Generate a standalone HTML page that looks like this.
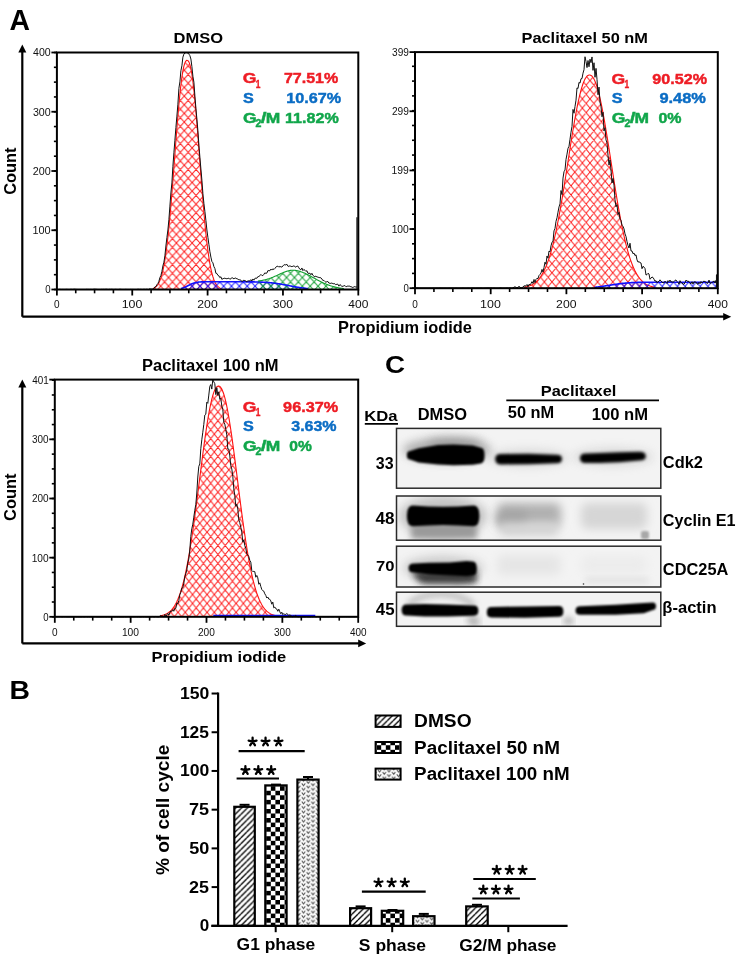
<!DOCTYPE html>
<html><head><meta charset="utf-8"><style>
html,body{margin:0;padding:0;background:#fff;}
svg{display:block;will-change:transform;}
text{font-family:"Liberation Sans",sans-serif;}
</style></head><body>
<svg width="737" height="967" viewBox="0 0 737 967">
<defs><pattern id="hrD" patternUnits="userSpaceOnUse" x="168.53" y="242.99" width="7.87" height="8.64"><path d="M0,0 L7.87,8.64 M7.87,0 L0,8.64 M-7.87,0 L7.87,17.28 M0,-8.64 L15.74,8.64 M0,8.64 L7.87,0 M-7.87,8.64 L7.87,-8.64 M0,17.28 L15.74,0" stroke="#ff1a1a" stroke-width="1.0" fill="none"/></pattern><pattern id="hbD" patternUnits="userSpaceOnUse" x="168.53" y="242.99" width="7.87" height="8.64"><path d="M0,0 L7.87,8.64 M7.87,0 L0,8.64 M-7.87,0 L7.87,17.28 M0,-8.64 L15.74,8.64 M0,8.64 L7.87,0 M-7.87,8.64 L7.87,-8.64 M0,17.28 L15.74,0" stroke="#1a1aff" stroke-width="1.0" fill="none"/></pattern><pattern id="hgD" patternUnits="userSpaceOnUse" x="168.53" y="242.99" width="7.87" height="8.64"><path d="M0,0 L7.87,8.64 M7.87,0 L0,8.64 M-7.87,0 L7.87,17.28 M0,-8.64 L15.74,8.64 M0,8.64 L7.87,0 M-7.87,8.64 L7.87,-8.64 M0,17.28 L15.74,0" stroke="#16a034" stroke-width="1.0" fill="none"/></pattern><pattern id="hrP" patternUnits="userSpaceOnUse" x="574.78" y="153.8" width="7.6" height="9.15"><path d="M0,0 L7.6,9.15 M7.6,0 L0,9.15 M-7.6,0 L7.6,18.3 M0,-9.15 L15.2,9.15 M0,9.15 L7.6,0 M-7.6,9.15 L7.6,-9.15 M0,18.3 L15.2,0" stroke="#ff1a1a" stroke-width="1.0" fill="none"/></pattern><pattern id="hbP" patternUnits="userSpaceOnUse" x="574.78" y="153.8" width="7.6" height="9.15"><path d="M0,0 L7.6,9.15 M7.6,0 L0,9.15 M-7.6,0 L7.6,18.3 M0,-9.15 L15.2,9.15 M0,9.15 L7.6,0 M-7.6,9.15 L7.6,-9.15 M0,18.3 L15.2,0" stroke="#1a1aff" stroke-width="1.0" fill="none"/></pattern><pattern id="hgP" patternUnits="userSpaceOnUse" x="574.78" y="153.8" width="7.6" height="9.15"><path d="M0,0 L7.6,9.15 M7.6,0 L0,9.15 M-7.6,0 L7.6,18.3 M0,-9.15 L15.2,9.15 M0,9.15 L7.6,0 M-7.6,9.15 L7.6,-9.15 M0,18.3 L15.2,0" stroke="#16a034" stroke-width="1.0" fill="none"/></pattern><pattern id="hrQ" patternUnits="userSpaceOnUse" x="207.06" y="505.43" width="7.26" height="8.91"><path d="M0,0 L7.26,8.91 M7.26,0 L0,8.91 M-7.26,0 L7.26,17.82 M0,-8.91 L14.52,8.91 M0,8.91 L7.26,0 M-7.26,8.91 L7.26,-8.91 M0,17.82 L14.52,0" stroke="#ff1a1a" stroke-width="1.0" fill="none"/></pattern><pattern id="hbQ" patternUnits="userSpaceOnUse" x="207.06" y="505.43" width="7.26" height="8.91"><path d="M0,0 L7.26,8.91 M7.26,0 L0,8.91 M-7.26,0 L7.26,17.82 M0,-8.91 L14.52,8.91 M0,8.91 L7.26,0 M-7.26,8.91 L7.26,-8.91 M0,17.82 L14.52,0" stroke="#1a1aff" stroke-width="1.0" fill="none"/></pattern><pattern id="hgQ" patternUnits="userSpaceOnUse" x="207.06" y="505.43" width="7.26" height="8.91"><path d="M0,0 L7.26,8.91 M7.26,0 L0,8.91 M-7.26,0 L7.26,17.82 M0,-8.91 L14.52,8.91 M0,8.91 L7.26,0 M-7.26,8.91 L7.26,-8.91 M0,17.82 L14.52,0" stroke="#16a034" stroke-width="1.0" fill="none"/></pattern><pattern id="pdiag" patternUnits="userSpaceOnUse" x="0.5" y="0" width="5.86" height="5.86"><path d="M-1,6.86 L6.86,-1 M-1,0.86 L0.86,-1 M5,6.86 L6.86,5" stroke="#000" stroke-width="1.35"/></pattern><pattern id="pcheck" patternUnits="userSpaceOnUse" x="266.2" y="786.2" width="9.2" height="9.1"><rect width="9.2" height="9.1" fill="#fff"/><rect x="4.6" width="4.6" height="4.55" fill="#000"/><rect y="4.55" width="4.6" height="4.55" fill="#000"/></pattern><pattern id="pdots" patternUnits="userSpaceOnUse" x="301.1" y="792.2" width="9.5" height="9.1"><rect width="9.5" height="9.1" fill="#fbfbfb"/><path d="M0.70,0.30 L2.40,2.50 L4.10,0.30 M5.45,2.60 L7.15,4.80 L8.85,2.60 M0.70,4.85 L2.40,7.05 L4.10,4.85 M5.45,7.15 L7.15,9.35 L8.85,7.15 M5.45,-1.95 L7.15,0.25 L8.85,-1.95 M-4.05,2.60 L-2.35,4.80 L-0.65,2.60 M-4.05,7.15 L-2.35,9.35 L-0.65,7.15 M10.20,2.60 L11.90,4.80 L13.60,2.60 M10.20,7.15 L11.90,9.35 L13.60,7.15 M10.20,-1.95 L11.90,0.25 L13.60,-1.95 M-4.05,-1.95 L-2.35,0.25 L-0.65,-1.95 " stroke="#505050" stroke-width="1.0" fill="none"/></pattern><filter id="b1" x="-20%" y="-50%" width="140%" height="200%"><feGaussianBlur stdDeviation="1.3"/></filter><filter id="b15" x="-20%" y="-60%" width="140%" height="220%"><feGaussianBlur stdDeviation="1.7"/></filter><filter id="b2" x="-20%" y="-80%" width="140%" height="260%"><feGaussianBlur stdDeviation="3"/></filter><filter id="b3" x="-30%" y="-100%" width="160%" height="300%"><feGaussianBlur stdDeviation="5"/></filter><clipPath id="cb0"><rect x="396.5" y="428.4" width="264.3" height="59.8"/></clipPath><clipPath id="cb1"><rect x="396.5" y="496.0" width="264.3" height="44.2"/></clipPath><clipPath id="cb2"><rect x="396.5" y="546.2" width="264.3" height="40.8"/></clipPath><clipPath id="cb3"><rect x="396.5" y="592.2" width="264.3" height="34.1"/></clipPath></defs>
<rect width="737" height="967" fill="#fff"/>
<path d="M152.90,289.50 L152.90,288.54 153.40,288.35 153.90,288.12 154.40,287.86 154.90,287.56 155.40,287.21 155.90,286.80 156.40,286.33 156.90,285.80 157.40,285.18 157.90,284.48 158.40,283.69 158.90,282.79 159.40,281.78 159.90,280.64 160.40,279.37 160.90,277.95 161.40,276.38 161.90,274.64 162.40,272.71 162.90,270.60 163.40,268.29 163.90,265.76 164.40,263.02 164.90,260.05 165.40,256.84 165.90,253.39 166.40,249.69 166.90,245.75 167.40,241.55 167.90,237.11 168.40,232.42 168.90,227.48 169.40,222.31 169.90,216.92 170.40,211.30 170.90,205.49 171.40,199.50 171.90,193.34 172.40,187.04 172.90,180.62 173.40,174.10 173.90,167.52 174.40,160.89 174.90,154.25 175.40,147.64 175.90,141.07 176.40,134.59 176.90,128.22 177.40,122.00 177.90,115.96 178.40,110.12 178.90,104.52 179.40,99.17 179.90,94.12 180.40,89.37 180.90,84.96 181.40,80.89 181.90,77.18 182.40,73.84 182.90,70.88 183.40,68.31 183.90,66.12 184.40,64.30 184.90,62.86 185.40,61.77 185.90,61.02 186.40,60.58 186.90,60.41 187.40,60.43 187.90,60.65 188.40,61.15 188.90,61.96 189.40,63.12 189.90,64.63 190.40,66.52 190.90,68.79 191.40,71.44 191.90,74.48 192.40,77.89 192.90,81.67 193.40,85.81 193.90,90.30 194.40,95.11 194.90,100.22 195.40,105.62 195.90,111.27 196.40,117.15 196.90,123.23 197.40,129.49 197.90,135.88 198.40,142.38 198.90,148.96 199.40,155.58 199.90,162.22 200.40,168.84 200.90,175.41 201.40,181.91 201.90,188.31 202.40,194.59 202.90,200.71 203.40,206.67 203.90,212.44 204.40,218.01 204.90,223.36 205.40,228.49 205.90,233.37 206.40,238.02 206.90,242.41 207.40,246.56 207.90,250.45 208.40,254.10 208.90,257.50 209.40,260.66 209.90,263.59 210.40,266.29 210.90,268.77 211.40,271.04 211.90,273.11 212.40,275.00 212.90,276.71 213.40,278.25 213.90,279.64 214.40,280.88 214.90,281.99 215.40,282.98 215.90,283.86 216.40,284.63 216.90,285.31 217.40,285.91 217.90,286.43 218.40,286.89 218.90,287.28 219.40,287.62 219.90,287.92 220.40,288.17 220.90,288.39 221.40,288.57 L221.40,289.50 Z" fill="url(#hrD)" stroke="none"/>
<polyline points="152.90,288.54 153.40,288.35 153.90,288.12 154.40,287.86 154.90,287.56 155.40,287.21 155.90,286.80 156.40,286.33 156.90,285.80 157.40,285.18 157.90,284.48 158.40,283.69 158.90,282.79 159.40,281.78 159.90,280.64 160.40,279.37 160.90,277.95 161.40,276.38 161.90,274.64 162.40,272.71 162.90,270.60 163.40,268.29 163.90,265.76 164.40,263.02 164.90,260.05 165.40,256.84 165.90,253.39 166.40,249.69 166.90,245.75 167.40,241.55 167.90,237.11 168.40,232.42 168.90,227.48 169.40,222.31 169.90,216.92 170.40,211.30 170.90,205.49 171.40,199.50 171.90,193.34 172.40,187.04 172.90,180.62 173.40,174.10 173.90,167.52 174.40,160.89 174.90,154.25 175.40,147.64 175.90,141.07 176.40,134.59 176.90,128.22 177.40,122.00 177.90,115.96 178.40,110.12 178.90,104.52 179.40,99.17 179.90,94.12 180.40,89.37 180.90,84.96 181.40,80.89 181.90,77.18 182.40,73.84 182.90,70.88 183.40,68.31 183.90,66.12 184.40,64.30 184.90,62.86 185.40,61.77 185.90,61.02 186.40,60.58 186.90,60.41 187.40,60.43 187.90,60.65 188.40,61.15 188.90,61.96 189.40,63.12 189.90,64.63 190.40,66.52 190.90,68.79 191.40,71.44 191.90,74.48 192.40,77.89 192.90,81.67 193.40,85.81 193.90,90.30 194.40,95.11 194.90,100.22 195.40,105.62 195.90,111.27 196.40,117.15 196.90,123.23 197.40,129.49 197.90,135.88 198.40,142.38 198.90,148.96 199.40,155.58 199.90,162.22 200.40,168.84 200.90,175.41 201.40,181.91 201.90,188.31 202.40,194.59 202.90,200.71 203.40,206.67 203.90,212.44 204.40,218.01 204.90,223.36 205.40,228.49 205.90,233.37 206.40,238.02 206.90,242.41 207.40,246.56 207.90,250.45 208.40,254.10 208.90,257.50 209.40,260.66 209.90,263.59 210.40,266.29 210.90,268.77 211.40,271.04 211.90,273.11 212.40,275.00 212.90,276.71 213.40,278.25 213.90,279.64 214.40,280.88 214.90,281.99 215.40,282.98 215.90,283.86 216.40,284.63 216.90,285.31 217.40,285.91 217.90,286.43 218.40,286.89 218.90,287.28 219.40,287.62 219.90,287.92 220.40,288.17 220.90,288.39 221.40,288.57" fill="none" stroke="#ff1010" stroke-width="1.1"/>
<path d="M180.90,289.50 L180.90,288.59 181.40,288.46 181.90,288.31 182.40,288.15 182.90,287.98 183.40,287.79 183.90,287.60 184.40,287.39 184.90,287.17 185.40,286.94 185.90,286.70 186.40,286.46 186.90,286.21 187.40,285.96 187.90,285.70 188.40,285.45 188.90,285.19 189.40,284.94 189.90,284.69 190.40,284.45 190.90,284.22 191.40,284.00 191.90,283.79 192.40,283.58 192.90,283.39 193.40,283.22 193.90,283.05 194.40,282.90 194.90,282.76 195.40,282.64 195.90,282.52 196.40,282.42 196.90,282.33 197.40,282.25 197.90,282.18 198.40,282.12 198.90,282.07 199.40,282.02 199.90,281.98 200.40,281.95 200.90,281.92 201.40,281.90 201.90,281.88 202.40,281.86 202.90,281.85 203.40,281.84 203.90,281.83 204.40,281.82 204.90,281.82 205.40,281.81 205.90,281.81 206.40,281.81 206.90,281.81 207.40,281.80 207.90,281.80 208.40,281.80 208.90,281.80 209.40,281.80 209.90,281.80 210.40,281.80 210.90,281.80 211.40,281.80 211.90,281.80 212.40,281.80 212.90,281.80 213.40,281.80 213.90,281.80 214.40,281.80 214.90,281.80 215.40,281.80 215.90,281.80 216.40,281.80 216.90,281.80 217.40,281.80 217.90,281.80 218.40,281.80 218.90,281.80 219.40,281.80 219.90,281.80 220.40,281.80 220.90,281.80 221.40,281.80 221.90,281.80 222.40,281.80 222.90,281.80 223.40,281.80 223.90,281.80 224.40,281.80 224.90,281.80 225.40,281.80 225.90,281.80 226.40,281.80 226.90,281.80 227.40,281.80 227.90,281.80 228.40,281.80 228.90,281.80 229.40,281.80 229.90,281.80 230.40,281.80 230.90,281.80 231.40,281.80 231.90,281.80 232.40,281.80 232.90,281.80 233.40,281.80 233.90,281.80 234.40,281.80 234.90,281.80 235.40,281.80 235.90,281.80 236.40,281.80 236.90,281.80 237.40,281.80 237.90,281.81 238.40,281.81 238.90,281.81 239.40,281.81 239.90,281.81 240.40,281.81 240.90,281.81 241.40,281.81 241.90,281.81 242.40,281.81 242.90,281.82 243.40,281.82 243.90,281.82 244.40,281.82 244.90,281.82 245.40,281.82 245.90,281.83 246.40,281.83 246.90,281.83 247.40,281.84 247.90,281.84 248.40,281.84 248.90,281.85 249.40,281.85 249.90,281.86 250.40,281.86 250.90,281.87 251.40,281.87 251.90,281.88 252.40,281.89 252.90,281.89 253.40,281.90 253.90,281.91 254.40,281.92 254.90,281.93 255.40,281.94 255.90,281.95 256.40,281.96 256.90,281.97 257.40,281.99 257.90,282.00 258.40,282.01 258.90,282.03 259.40,282.05 259.90,282.07 260.40,282.08 260.90,282.10 261.40,282.13 261.90,282.15 262.40,282.17 262.90,282.20 263.40,282.22 263.90,282.25 264.40,282.28 264.90,282.31 265.40,282.34 265.90,282.37 266.40,282.41 266.90,282.44 267.40,282.48 267.90,282.52 268.40,282.56 268.90,282.60 269.40,282.65 269.90,282.70 270.40,282.74 270.90,282.79 271.40,282.84 271.90,282.90 272.40,282.95 272.90,283.01 273.40,283.07 273.90,283.13 274.40,283.19 274.90,283.26 275.40,283.32 275.90,283.39 276.40,283.46 276.90,283.53 277.40,283.60 277.90,283.68 278.40,283.75 278.90,283.83 279.40,283.91 279.90,283.99 280.40,284.08 280.90,284.16 281.40,284.24 281.90,284.33 282.40,284.42 282.90,284.51 283.40,284.60 283.90,284.69 284.40,284.78 284.90,284.87 285.40,284.96 285.90,285.06 286.40,285.15 286.90,285.25 287.40,285.34 287.90,285.44 288.40,285.53 288.90,285.63 289.40,285.73 289.90,285.82 290.40,285.92 290.90,286.01 291.40,286.11 291.90,286.20 292.40,286.30 292.90,286.39 293.40,286.48 293.90,286.58 294.40,286.67 294.90,286.76 295.40,286.85 295.90,286.93 296.40,287.02 296.90,287.11 297.40,287.19 297.90,287.27 298.40,287.36 298.90,287.44 299.40,287.51 299.90,287.59 300.40,287.67 300.90,287.74 301.40,287.81 301.90,287.88 302.40,287.95 302.90,288.02 303.40,288.08 303.90,288.15 304.40,288.21 304.90,288.27 305.40,288.32 305.90,288.38 306.40,288.43 306.90,288.49 307.40,288.54 307.90,288.59 L307.90,289.50 Z" fill="url(#hbD)" stroke="none"/>
<path d="M257.90,289.50 L257.90,281.03 258.40,280.97 258.90,280.91 259.40,280.84 259.90,280.77 260.40,280.70 260.90,280.62 261.40,280.53 261.90,280.44 262.40,280.35 262.90,280.25 263.40,280.15 263.90,280.04 264.40,279.93 264.90,279.81 265.40,279.69 265.90,279.56 266.40,279.43 266.90,279.29 267.40,279.14 267.90,278.99 268.40,278.84 268.90,278.67 269.40,278.51 269.90,278.33 270.40,278.16 270.90,277.97 271.40,277.78 271.90,277.59 272.40,277.39 272.90,277.19 273.40,276.98 273.90,276.77 274.40,276.56 274.90,276.34 275.40,276.12 275.90,275.89 276.40,275.67 276.90,275.44 277.40,275.21 277.90,274.98 278.40,274.74 278.90,274.51 279.40,274.28 279.90,274.05 280.40,273.82 280.90,273.59 281.40,273.36 281.90,273.14 282.40,272.92 282.90,272.71 283.40,272.50 283.90,272.29 284.40,272.09 284.90,271.90 285.40,271.72 285.90,271.54 286.40,271.37 286.90,271.21 287.40,271.06 287.90,270.92 288.40,270.80 288.90,270.68 289.40,270.57 289.90,270.48 290.40,270.40 290.90,270.33 291.40,270.28 291.90,270.24 292.40,270.21 292.90,270.20 293.40,270.20 293.90,270.22 294.40,270.25 294.90,270.30 295.40,270.36 295.90,270.44 296.40,270.52 296.90,270.62 297.40,270.73 297.90,270.85 298.40,270.97 298.90,271.11 299.40,271.25 299.90,271.40 300.40,271.56 300.90,271.73 301.40,271.90 301.90,272.09 302.40,272.27 302.90,272.47 303.40,272.67 303.90,272.88 304.40,273.10 304.90,273.32 305.40,273.55 305.90,273.78 306.40,274.02 306.90,274.26 307.40,274.51 307.90,274.76 308.40,275.02 308.90,275.28 309.40,275.54 309.90,275.80 310.40,276.07 310.90,276.34 311.40,276.61 311.90,276.88 312.40,277.16 312.90,277.43 313.40,277.71 313.90,277.98 314.40,278.26 314.90,278.54 315.40,278.81 315.90,279.09 316.40,279.36 316.90,279.63 317.40,279.90 317.90,280.17 318.40,280.43 318.90,280.70 319.40,280.96 319.90,281.21 320.40,281.47 320.90,281.72 321.40,281.97 321.90,282.21 322.40,282.45 322.90,282.69 323.40,282.92 323.90,283.15 324.40,283.38 324.90,283.60 325.40,283.81 325.90,284.02 326.40,284.23 326.90,284.43 327.40,284.63 327.90,284.82 328.40,285.00 328.90,285.19 329.40,285.36 329.90,285.54 330.40,285.70 330.90,285.87 331.40,286.02 331.90,286.18 332.40,286.33 332.90,286.47 333.40,286.61 333.90,286.74 334.40,286.87 334.90,287.00 335.40,287.12 335.90,287.23 336.40,287.34 336.90,287.45 337.40,287.55 337.90,287.65 338.40,287.75 338.90,287.84 339.40,287.93 339.90,288.01 340.40,288.09 340.90,288.17 341.40,288.24 341.90,288.31 342.40,288.38 342.90,288.44 343.40,288.50 343.90,288.56 L343.90,289.50 Z" fill="url(#hgD)" stroke="none"/>
<polyline points="180.90,288.59 181.40,288.46 181.90,288.31 182.40,288.15 182.90,287.98 183.40,287.79 183.90,287.60 184.40,287.39 184.90,287.17 185.40,286.94 185.90,286.70 186.40,286.46 186.90,286.21 187.40,285.96 187.90,285.70 188.40,285.45 188.90,285.19 189.40,284.94 189.90,284.69 190.40,284.45 190.90,284.22 191.40,284.00 191.90,283.79 192.40,283.58 192.90,283.39 193.40,283.22 193.90,283.05 194.40,282.90 194.90,282.76 195.40,282.64 195.90,282.52 196.40,282.42 196.90,282.33 197.40,282.25 197.90,282.18 198.40,282.12 198.90,282.07 199.40,282.02 199.90,281.98 200.40,281.95 200.90,281.92 201.40,281.90 201.90,281.88 202.40,281.86 202.90,281.85 203.40,281.84 203.90,281.83 204.40,281.82 204.90,281.82 205.40,281.81 205.90,281.81 206.40,281.81 206.90,281.81 207.40,281.80 207.90,281.80 208.40,281.80 208.90,281.80 209.40,281.80 209.90,281.80 210.40,281.80 210.90,281.80 211.40,281.80 211.90,281.80 212.40,281.80 212.90,281.80 213.40,281.80 213.90,281.80 214.40,281.80 214.90,281.80 215.40,281.80 215.90,281.80 216.40,281.80 216.90,281.80 217.40,281.80 217.90,281.80 218.40,281.80 218.90,281.80 219.40,281.80 219.90,281.80 220.40,281.80 220.90,281.80 221.40,281.80 221.90,281.80 222.40,281.80 222.90,281.80 223.40,281.80 223.90,281.80 224.40,281.80 224.90,281.80 225.40,281.80 225.90,281.80 226.40,281.80 226.90,281.80 227.40,281.80 227.90,281.80 228.40,281.80 228.90,281.80 229.40,281.80 229.90,281.80 230.40,281.80 230.90,281.80 231.40,281.80 231.90,281.80 232.40,281.80 232.90,281.80 233.40,281.80 233.90,281.80 234.40,281.80 234.90,281.80 235.40,281.80 235.90,281.80 236.40,281.80 236.90,281.80 237.40,281.80 237.90,281.81 238.40,281.81 238.90,281.81 239.40,281.81 239.90,281.81 240.40,281.81 240.90,281.81 241.40,281.81 241.90,281.81 242.40,281.81 242.90,281.82 243.40,281.82 243.90,281.82 244.40,281.82 244.90,281.82 245.40,281.82 245.90,281.83 246.40,281.83 246.90,281.83 247.40,281.84 247.90,281.84 248.40,281.84 248.90,281.85 249.40,281.85 249.90,281.86 250.40,281.86 250.90,281.87 251.40,281.87 251.90,281.88 252.40,281.89 252.90,281.89 253.40,281.90 253.90,281.91 254.40,281.92 254.90,281.93 255.40,281.94 255.90,281.95 256.40,281.96 256.90,281.97 257.40,281.99 257.90,282.00 258.40,282.01 258.90,282.03 259.40,282.05 259.90,282.07 260.40,282.08 260.90,282.10 261.40,282.13 261.90,282.15 262.40,282.17 262.90,282.20 263.40,282.22 263.90,282.25 264.40,282.28 264.90,282.31 265.40,282.34 265.90,282.37 266.40,282.41 266.90,282.44 267.40,282.48 267.90,282.52 268.40,282.56 268.90,282.60 269.40,282.65 269.90,282.70 270.40,282.74 270.90,282.79 271.40,282.84 271.90,282.90 272.40,282.95 272.90,283.01 273.40,283.07 273.90,283.13 274.40,283.19 274.90,283.26 275.40,283.32 275.90,283.39 276.40,283.46 276.90,283.53 277.40,283.60 277.90,283.68 278.40,283.75 278.90,283.83 279.40,283.91 279.90,283.99 280.40,284.08 280.90,284.16 281.40,284.24 281.90,284.33 282.40,284.42 282.90,284.51 283.40,284.60 283.90,284.69 284.40,284.78 284.90,284.87 285.40,284.96 285.90,285.06 286.40,285.15 286.90,285.25 287.40,285.34 287.90,285.44 288.40,285.53 288.90,285.63 289.40,285.73 289.90,285.82 290.40,285.92 290.90,286.01 291.40,286.11 291.90,286.20 292.40,286.30 292.90,286.39 293.40,286.48 293.90,286.58 294.40,286.67 294.90,286.76 295.40,286.85 295.90,286.93 296.40,287.02 296.90,287.11 297.40,287.19 297.90,287.27 298.40,287.36 298.90,287.44 299.40,287.51 299.90,287.59 300.40,287.67 300.90,287.74 301.40,287.81 301.90,287.88 302.40,287.95 302.90,288.02 303.40,288.08 303.90,288.15 304.40,288.21 304.90,288.27 305.40,288.32 305.90,288.38 306.40,288.43 306.90,288.49 307.40,288.54 307.90,288.59" fill="none" stroke="#1010ff" stroke-width="1.6"/>
<polyline points="257.90,281.03 258.40,280.97 258.90,280.91 259.40,280.84 259.90,280.77 260.40,280.70 260.90,280.62 261.40,280.53 261.90,280.44 262.40,280.35 262.90,280.25 263.40,280.15 263.90,280.04 264.40,279.93 264.90,279.81 265.40,279.69 265.90,279.56 266.40,279.43 266.90,279.29 267.40,279.14 267.90,278.99 268.40,278.84 268.90,278.67 269.40,278.51 269.90,278.33 270.40,278.16 270.90,277.97 271.40,277.78 271.90,277.59 272.40,277.39 272.90,277.19 273.40,276.98 273.90,276.77 274.40,276.56 274.90,276.34 275.40,276.12 275.90,275.89 276.40,275.67 276.90,275.44 277.40,275.21 277.90,274.98 278.40,274.74 278.90,274.51 279.40,274.28 279.90,274.05 280.40,273.82 280.90,273.59 281.40,273.36 281.90,273.14 282.40,272.92 282.90,272.71 283.40,272.50 283.90,272.29 284.40,272.09 284.90,271.90 285.40,271.72 285.90,271.54 286.40,271.37 286.90,271.21 287.40,271.06 287.90,270.92 288.40,270.80 288.90,270.68 289.40,270.57 289.90,270.48 290.40,270.40 290.90,270.33 291.40,270.28 291.90,270.24 292.40,270.21 292.90,270.20 293.40,270.20 293.90,270.22 294.40,270.25 294.90,270.30 295.40,270.36 295.90,270.44 296.40,270.52 296.90,270.62 297.40,270.73 297.90,270.85 298.40,270.97 298.90,271.11 299.40,271.25 299.90,271.40 300.40,271.56 300.90,271.73 301.40,271.90 301.90,272.09 302.40,272.27 302.90,272.47 303.40,272.67 303.90,272.88 304.40,273.10 304.90,273.32 305.40,273.55 305.90,273.78 306.40,274.02 306.90,274.26 307.40,274.51 307.90,274.76 308.40,275.02 308.90,275.28 309.40,275.54 309.90,275.80 310.40,276.07 310.90,276.34 311.40,276.61 311.90,276.88 312.40,277.16 312.90,277.43 313.40,277.71 313.90,277.98 314.40,278.26 314.90,278.54 315.40,278.81 315.90,279.09 316.40,279.36 316.90,279.63 317.40,279.90 317.90,280.17 318.40,280.43 318.90,280.70 319.40,280.96 319.90,281.21 320.40,281.47 320.90,281.72 321.40,281.97 321.90,282.21 322.40,282.45 322.90,282.69 323.40,282.92 323.90,283.15 324.40,283.38 324.90,283.60 325.40,283.81 325.90,284.02 326.40,284.23 326.90,284.43 327.40,284.63 327.90,284.82 328.40,285.00 328.90,285.19 329.40,285.36 329.90,285.54 330.40,285.70 330.90,285.87 331.40,286.02 331.90,286.18 332.40,286.33 332.90,286.47 333.40,286.61 333.90,286.74 334.40,286.87 334.90,287.00 335.40,287.12 335.90,287.23 336.40,287.34 336.90,287.45 337.40,287.55 337.90,287.65 338.40,287.75 338.90,287.84 339.40,287.93 339.90,288.01 340.40,288.09 340.90,288.17 341.40,288.24 341.90,288.31 342.40,288.38 342.90,288.44 343.40,288.50 343.90,288.56" fill="none" stroke="#12a030" stroke-width="1.1"/>
<polyline points="57.90,289.50 58.90,289.47 59.90,289.30 60.90,289.50 61.90,289.50 62.90,289.46 63.90,289.50 64.90,289.49 65.90,289.44 66.90,289.36 67.90,289.50 68.90,289.50 69.90,289.50 70.90,289.35 71.90,289.41 72.90,289.50 73.90,289.27 74.90,289.28 75.90,289.43 76.90,289.44 77.90,289.50 78.90,289.50 79.90,289.49 80.90,289.50 81.90,289.50 82.90,289.50 83.90,289.50 84.90,289.50 85.90,289.50 86.90,289.34 87.90,289.49 88.90,289.43 89.90,289.50 90.90,289.42 91.90,289.50 92.90,289.50 93.90,289.26 94.90,289.26 95.90,289.34 96.90,289.40 97.90,289.50 98.90,289.50 99.90,289.50 100.90,289.50 101.90,289.37 102.90,289.50 103.90,289.33 104.90,289.50 105.90,289.28 106.90,289.33 107.90,289.50 108.90,289.50 109.90,289.30 110.90,289.50 111.90,289.27 112.90,289.50 113.90,289.50 114.90,289.44 115.90,289.37 116.90,289.50 117.90,289.50 118.90,289.50 119.90,289.28 120.90,289.38 121.90,289.50 122.90,289.50 123.90,289.50 124.90,289.50 125.90,289.36 126.90,289.50 127.90,289.47 128.90,289.50 129.90,289.50 130.90,289.39 131.90,289.50 132.90,289.43 133.90,289.50 134.90,289.50 135.90,289.50 136.90,289.50 137.90,289.27 138.90,289.35 139.90,289.50 140.90,289.31 141.90,289.50 142.90,289.50 143.90,289.32 144.90,289.42 145.90,289.50 146.90,289.22 147.90,289.50 148.90,289.50 149.90,288.62 150.90,289.21 151.90,289.00 152.90,289.05 153.90,288.52 154.90,286.87 155.90,286.62 156.90,284.65 157.90,283.55 158.90,281.34 159.90,277.57 160.90,275.53 161.90,271.40 162.90,265.90 163.90,262.24 164.90,255.85 165.90,245.99 166.90,237.66 167.90,229.99 168.90,219.65 169.90,206.10 170.90,192.94 171.90,182.92 172.90,166.30 173.90,152.81 174.90,140.27 175.90,127.59 176.90,116.10 177.90,104.19 178.90,88.34 179.90,81.88 180.90,70.76 181.90,65.81 182.90,57.13 183.90,54.16 184.90,53.07 185.90,52.50 186.90,52.50 187.90,53.06 188.90,54.08 189.90,55.67 190.90,59.02 191.90,66.68 192.90,76.25 193.90,82.21 194.90,96.13 195.90,108.31 196.90,119.08 197.90,130.73 198.90,145.18 199.90,157.34 200.90,168.99 201.90,180.22 202.90,193.50 203.90,203.40 204.90,211.48 205.90,220.44 206.90,229.98 207.90,237.40 208.90,244.44 209.90,251.71 210.90,257.12 211.90,261.55 212.90,262.79 213.90,266.60 214.90,268.59 215.90,273.28 216.90,273.49 217.90,275.32 218.90,275.84 219.90,277.73 220.90,276.74 221.90,279.45 222.90,278.66 223.90,278.43 224.90,278.17 225.90,278.62 226.90,278.71 227.90,278.47 228.90,278.12 229.90,279.37 230.90,278.50 231.90,277.90 232.90,277.92 233.90,278.98 234.90,278.11 235.90,278.04 236.90,278.90 237.90,279.03 238.90,279.92 239.90,279.81 240.90,280.14 241.90,281.74 242.90,280.78 243.90,280.22 244.90,280.64 245.90,281.03 246.90,281.75 247.90,280.80 248.90,280.90 249.90,280.91 250.90,279.62 251.90,280.97 252.90,278.96 253.90,280.20 254.90,278.35 255.90,278.14 256.90,278.24 257.90,276.57 258.90,276.54 259.90,275.71 260.90,274.40 261.90,275.51 262.90,275.59 263.90,274.31 264.90,272.79 265.90,273.48 266.90,273.03 267.90,270.58 268.90,270.70 269.90,270.76 270.90,269.07 271.90,270.09 272.90,268.72 273.90,269.54 274.90,268.49 275.90,267.07 276.90,266.40 277.90,266.15 278.90,267.19 279.90,266.36 280.90,266.84 281.90,267.12 282.90,265.93 283.90,264.84 284.90,264.69 285.90,264.99 286.90,264.28 287.90,266.14 288.90,266.47 289.90,265.75 290.90,266.34 291.90,266.65 292.90,266.27 293.90,265.89 294.90,266.50 295.90,267.26 296.90,266.13 297.90,266.08 298.90,267.88 299.90,269.29 300.90,269.82 301.90,267.98 302.90,270.67 303.90,269.36 304.90,270.22 305.90,271.41 306.90,270.66 307.90,273.21 308.90,273.43 309.90,273.15 310.90,274.80 311.90,273.29 312.90,275.34 313.90,276.13 314.90,276.90 315.90,275.99 316.90,276.98 317.90,277.06 318.90,277.52 319.90,277.66 320.90,277.81 321.90,278.95 322.90,280.56 323.90,280.37 324.90,281.50 325.90,282.30 326.90,281.66 327.90,281.51 328.90,283.09 329.90,283.24 330.90,283.42 331.90,282.98 332.90,283.68 333.90,283.78 334.90,283.76 335.90,284.80 336.90,284.21 337.90,284.21 338.90,286.15 339.90,284.59 340.90,285.23 341.90,286.63 342.90,286.13 343.90,285.94 344.90,285.51 345.90,286.72 346.90,286.46 347.90,285.96 348.90,286.23 349.90,286.04 350.90,287.08 351.90,286.79 352.90,287.74 353.90,286.79 354.90,286.67 355.90,287.07 356.90,286.97" fill="none" stroke="#111" stroke-width="1" stroke-linejoin="miter"/>
<rect x="56.90" y="52.50" width="301.40" height="237.00" fill="none" stroke="#000" stroke-width="2"/>
<line x1="53.90" y1="289.50" x2="56.90" y2="289.50" stroke="#000" stroke-width="1.6" />
<line x1="53.90" y1="274.69" x2="56.90" y2="274.69" stroke="#000" stroke-width="1.6" />
<line x1="53.90" y1="259.88" x2="56.90" y2="259.88" stroke="#000" stroke-width="1.6" />
<line x1="53.90" y1="245.06" x2="56.90" y2="245.06" stroke="#000" stroke-width="1.6" />
<line x1="53.90" y1="230.25" x2="56.90" y2="230.25" stroke="#000" stroke-width="1.6" />
<line x1="53.90" y1="215.44" x2="56.90" y2="215.44" stroke="#000" stroke-width="1.6" />
<line x1="53.90" y1="200.62" x2="56.90" y2="200.62" stroke="#000" stroke-width="1.6" />
<line x1="53.90" y1="185.81" x2="56.90" y2="185.81" stroke="#000" stroke-width="1.6" />
<line x1="53.90" y1="171.00" x2="56.90" y2="171.00" stroke="#000" stroke-width="1.6" />
<line x1="53.90" y1="156.19" x2="56.90" y2="156.19" stroke="#000" stroke-width="1.6" />
<line x1="53.90" y1="141.38" x2="56.90" y2="141.38" stroke="#000" stroke-width="1.6" />
<line x1="53.90" y1="126.56" x2="56.90" y2="126.56" stroke="#000" stroke-width="1.6" />
<line x1="53.90" y1="111.75" x2="56.90" y2="111.75" stroke="#000" stroke-width="1.6" />
<line x1="53.90" y1="96.94" x2="56.90" y2="96.94" stroke="#000" stroke-width="1.6" />
<line x1="53.90" y1="82.12" x2="56.90" y2="82.12" stroke="#000" stroke-width="1.6" />
<line x1="53.90" y1="67.31" x2="56.90" y2="67.31" stroke="#000" stroke-width="1.6" />
<line x1="53.90" y1="52.50" x2="56.90" y2="52.50" stroke="#000" stroke-width="1.6" />
<line x1="51.40" y1="289.50" x2="56.90" y2="289.50" stroke="#000" stroke-width="1.8" />
<text x="45.31" y="293.45" font-size="11.30" font-weight="normal" fill="#111" textLength="5.36" lengthAdjust="spacingAndGlyphs" >0</text>
<line x1="51.40" y1="230.25" x2="56.90" y2="230.25" stroke="#000" stroke-width="1.8" />
<text x="32.48" y="234.20" font-size="11.30" font-weight="normal" fill="#111" textLength="18.24" lengthAdjust="spacingAndGlyphs" >100</text>
<line x1="51.40" y1="171.00" x2="56.90" y2="171.00" stroke="#000" stroke-width="1.8" />
<text x="32.76" y="174.95" font-size="11.30" font-weight="normal" fill="#111" textLength="17.95" lengthAdjust="spacingAndGlyphs" >200</text>
<line x1="51.40" y1="111.75" x2="56.90" y2="111.75" stroke="#000" stroke-width="1.8" />
<text x="32.90" y="115.70" font-size="11.30" font-weight="normal" fill="#111" textLength="17.81" lengthAdjust="spacingAndGlyphs" >300</text>
<line x1="51.40" y1="52.50" x2="56.90" y2="52.50" stroke="#000" stroke-width="1.8" />
<text x="33.06" y="56.45" font-size="11.30" font-weight="normal" fill="#111" textLength="17.65" lengthAdjust="spacingAndGlyphs" >400</text>
<line x1="56.90" y1="289.50" x2="56.90" y2="295.50" stroke="#000" stroke-width="1.8" />
<text x="54.10" y="307.80" font-size="11.30" font-weight="normal" fill="#111" textLength="5.59" lengthAdjust="spacingAndGlyphs" >0</text>
<line x1="75.74" y1="289.50" x2="75.74" y2="293.30" stroke="#000" stroke-width="1.6" />
<line x1="94.58" y1="289.50" x2="94.58" y2="293.30" stroke="#000" stroke-width="1.6" />
<line x1="113.41" y1="289.50" x2="113.41" y2="293.30" stroke="#000" stroke-width="1.6" />
<line x1="132.25" y1="289.50" x2="132.25" y2="295.50" stroke="#000" stroke-width="1.8" />
<text x="121.67" y="307.80" font-size="11.30" font-weight="normal" fill="#111" textLength="20.71" lengthAdjust="spacingAndGlyphs" >100</text>
<line x1="151.09" y1="289.50" x2="151.09" y2="293.30" stroke="#000" stroke-width="1.6" />
<line x1="169.93" y1="289.50" x2="169.93" y2="293.30" stroke="#000" stroke-width="1.6" />
<line x1="188.76" y1="289.50" x2="188.76" y2="293.30" stroke="#000" stroke-width="1.6" />
<line x1="207.60" y1="289.50" x2="207.60" y2="295.50" stroke="#000" stroke-width="1.8" />
<text x="197.34" y="307.80" font-size="11.30" font-weight="normal" fill="#111" textLength="20.38" lengthAdjust="spacingAndGlyphs" >200</text>
<line x1="226.44" y1="289.50" x2="226.44" y2="293.30" stroke="#000" stroke-width="1.6" />
<line x1="245.28" y1="289.50" x2="245.28" y2="293.30" stroke="#000" stroke-width="1.6" />
<line x1="264.11" y1="289.50" x2="264.11" y2="293.30" stroke="#000" stroke-width="1.6" />
<line x1="282.95" y1="289.50" x2="282.95" y2="295.50" stroke="#000" stroke-width="1.8" />
<text x="272.85" y="307.80" font-size="11.30" font-weight="normal" fill="#111" textLength="20.22" lengthAdjust="spacingAndGlyphs" >300</text>
<line x1="301.79" y1="289.50" x2="301.79" y2="293.30" stroke="#000" stroke-width="1.6" />
<line x1="320.62" y1="289.50" x2="320.62" y2="293.30" stroke="#000" stroke-width="1.6" />
<line x1="339.46" y1="289.50" x2="339.46" y2="293.30" stroke="#000" stroke-width="1.6" />
<line x1="358.30" y1="289.50" x2="358.30" y2="295.50" stroke="#000" stroke-width="1.8" />
<text x="348.38" y="307.80" font-size="11.30" font-weight="normal" fill="#111" textLength="20.03" lengthAdjust="spacingAndGlyphs" >400</text>
<path d="M524.00,288.20 L524.00,287.23 524.50,287.15 525.00,287.05 525.50,286.95 526.00,286.84 526.50,286.72 527.00,286.60 527.50,286.46 528.00,286.31 528.50,286.16 529.00,285.99 529.50,285.80 530.00,285.61 530.50,285.40 531.00,285.18 531.50,284.94 532.00,284.68 532.50,284.41 533.00,284.12 533.50,283.81 534.00,283.48 534.50,283.13 535.00,282.76 535.50,282.36 536.00,281.94 536.50,281.49 537.00,281.02 537.50,280.52 538.00,279.99 538.50,279.43 539.00,278.84 539.50,278.21 540.00,277.55 540.50,276.86 541.00,276.12 541.50,275.35 542.00,274.54 542.50,273.69 543.00,272.80 543.50,271.87 544.00,270.89 544.50,269.86 545.00,268.79 545.50,267.66 546.00,266.49 546.50,265.27 547.00,264.00 547.50,262.67 548.00,261.29 548.50,259.85 549.00,258.36 549.50,256.81 550.00,255.20 550.50,253.53 551.00,251.81 551.50,250.02 552.00,248.18 552.50,246.27 553.00,244.31 553.50,242.28 554.00,240.20 554.50,238.05 555.00,235.84 555.50,233.57 556.00,231.25 556.50,228.86 557.00,226.42 557.50,223.92 558.00,221.36 558.50,218.75 559.00,216.08 559.50,213.37 560.00,210.60 560.50,207.78 561.00,204.92 561.50,202.02 562.00,199.07 562.50,196.08 563.00,193.06 563.50,190.00 564.00,186.91 564.50,183.79 565.00,180.65 565.50,177.48 566.00,174.30 566.50,171.11 567.00,167.90 567.50,164.68 568.00,161.46 568.50,158.24 569.00,155.03 569.50,151.83 570.00,148.63 570.50,145.46 571.00,142.31 571.50,139.18 572.00,136.08 572.50,133.02 573.00,129.99 573.50,127.01 574.00,124.08 574.50,121.20 575.00,118.37 575.50,115.60 576.00,112.90 576.50,110.27 577.00,107.71 577.50,105.22 578.00,102.81 578.50,100.49 579.00,98.25 579.50,96.10 580.00,94.05 580.50,92.09 581.00,90.22 581.50,88.46 582.00,86.81 582.50,85.25 583.00,83.81 583.50,82.47 584.00,81.24 584.50,80.12 585.00,79.11 585.50,78.22 586.00,77.44 586.50,76.77 587.00,76.21 587.50,75.76 588.00,75.41 588.50,75.18 589.00,75.04 589.50,75.00 590.00,75.04 590.50,75.18 591.00,75.41 591.50,75.76 592.00,76.21 592.50,76.77 593.00,77.44 593.50,78.22 594.00,79.11 594.50,80.12 595.00,81.24 595.50,82.47 596.00,83.81 596.50,85.25 597.00,86.81 597.50,88.46 598.00,90.22 598.50,92.09 599.00,94.05 599.50,96.10 600.00,98.25 600.50,100.49 601.00,102.81 601.50,105.22 602.00,107.71 602.50,110.27 603.00,112.90 603.50,115.60 604.00,118.37 604.50,121.20 605.00,124.08 605.50,127.01 606.00,129.99 606.50,133.02 607.00,136.08 607.50,139.18 608.00,142.31 608.50,145.46 609.00,148.63 609.50,151.83 610.00,155.03 610.50,158.24 611.00,161.46 611.50,164.68 612.00,167.90 612.50,171.11 613.00,174.30 613.50,177.48 614.00,180.65 614.50,183.79 615.00,186.91 615.50,190.00 616.00,193.06 616.50,196.08 617.00,199.07 617.50,202.02 618.00,204.92 618.50,207.78 619.00,210.60 619.50,213.37 620.00,216.08 620.50,218.75 621.00,221.36 621.50,223.92 622.00,226.42 622.50,228.86 623.00,231.25 623.50,233.57 624.00,235.84 624.50,238.05 625.00,240.20 625.50,242.28 626.00,244.31 626.50,246.27 627.00,248.18 627.50,250.02 628.00,251.81 628.50,253.53 629.00,255.20 629.50,256.81 630.00,258.36 630.50,259.85 631.00,261.29 631.50,262.67 632.00,264.00 632.50,265.27 633.00,266.49 633.50,267.66 634.00,268.79 634.50,269.86 635.00,270.89 635.50,271.87 636.00,272.80 636.50,273.69 637.00,274.54 637.50,275.35 638.00,276.12 638.50,276.86 639.00,277.55 639.50,278.21 640.00,278.84 640.50,279.43 641.00,279.99 641.50,280.52 642.00,281.02 642.50,281.49 643.00,281.94 643.50,282.36 644.00,282.76 644.50,283.13 645.00,283.48 645.50,283.81 646.00,284.12 646.50,284.41 647.00,284.68 647.50,284.94 648.00,285.18 648.50,285.40 649.00,285.61 649.50,285.80 650.00,285.99 650.50,286.16 651.00,286.31 651.50,286.46 652.00,286.60 652.50,286.72 653.00,286.84 653.50,286.95 654.00,287.05 654.50,287.15 655.00,287.23 L655.00,288.20 Z" fill="url(#hrP)" stroke="none"/>
<polyline points="524.00,287.23 524.50,287.15 525.00,287.05 525.50,286.95 526.00,286.84 526.50,286.72 527.00,286.60 527.50,286.46 528.00,286.31 528.50,286.16 529.00,285.99 529.50,285.80 530.00,285.61 530.50,285.40 531.00,285.18 531.50,284.94 532.00,284.68 532.50,284.41 533.00,284.12 533.50,283.81 534.00,283.48 534.50,283.13 535.00,282.76 535.50,282.36 536.00,281.94 536.50,281.49 537.00,281.02 537.50,280.52 538.00,279.99 538.50,279.43 539.00,278.84 539.50,278.21 540.00,277.55 540.50,276.86 541.00,276.12 541.50,275.35 542.00,274.54 542.50,273.69 543.00,272.80 543.50,271.87 544.00,270.89 544.50,269.86 545.00,268.79 545.50,267.66 546.00,266.49 546.50,265.27 547.00,264.00 547.50,262.67 548.00,261.29 548.50,259.85 549.00,258.36 549.50,256.81 550.00,255.20 550.50,253.53 551.00,251.81 551.50,250.02 552.00,248.18 552.50,246.27 553.00,244.31 553.50,242.28 554.00,240.20 554.50,238.05 555.00,235.84 555.50,233.57 556.00,231.25 556.50,228.86 557.00,226.42 557.50,223.92 558.00,221.36 558.50,218.75 559.00,216.08 559.50,213.37 560.00,210.60 560.50,207.78 561.00,204.92 561.50,202.02 562.00,199.07 562.50,196.08 563.00,193.06 563.50,190.00 564.00,186.91 564.50,183.79 565.00,180.65 565.50,177.48 566.00,174.30 566.50,171.11 567.00,167.90 567.50,164.68 568.00,161.46 568.50,158.24 569.00,155.03 569.50,151.83 570.00,148.63 570.50,145.46 571.00,142.31 571.50,139.18 572.00,136.08 572.50,133.02 573.00,129.99 573.50,127.01 574.00,124.08 574.50,121.20 575.00,118.37 575.50,115.60 576.00,112.90 576.50,110.27 577.00,107.71 577.50,105.22 578.00,102.81 578.50,100.49 579.00,98.25 579.50,96.10 580.00,94.05 580.50,92.09 581.00,90.22 581.50,88.46 582.00,86.81 582.50,85.25 583.00,83.81 583.50,82.47 584.00,81.24 584.50,80.12 585.00,79.11 585.50,78.22 586.00,77.44 586.50,76.77 587.00,76.21 587.50,75.76 588.00,75.41 588.50,75.18 589.00,75.04 589.50,75.00 590.00,75.04 590.50,75.18 591.00,75.41 591.50,75.76 592.00,76.21 592.50,76.77 593.00,77.44 593.50,78.22 594.00,79.11 594.50,80.12 595.00,81.24 595.50,82.47 596.00,83.81 596.50,85.25 597.00,86.81 597.50,88.46 598.00,90.22 598.50,92.09 599.00,94.05 599.50,96.10 600.00,98.25 600.50,100.49 601.00,102.81 601.50,105.22 602.00,107.71 602.50,110.27 603.00,112.90 603.50,115.60 604.00,118.37 604.50,121.20 605.00,124.08 605.50,127.01 606.00,129.99 606.50,133.02 607.00,136.08 607.50,139.18 608.00,142.31 608.50,145.46 609.00,148.63 609.50,151.83 610.00,155.03 610.50,158.24 611.00,161.46 611.50,164.68 612.00,167.90 612.50,171.11 613.00,174.30 613.50,177.48 614.00,180.65 614.50,183.79 615.00,186.91 615.50,190.00 616.00,193.06 616.50,196.08 617.00,199.07 617.50,202.02 618.00,204.92 618.50,207.78 619.00,210.60 619.50,213.37 620.00,216.08 620.50,218.75 621.00,221.36 621.50,223.92 622.00,226.42 622.50,228.86 623.00,231.25 623.50,233.57 624.00,235.84 624.50,238.05 625.00,240.20 625.50,242.28 626.00,244.31 626.50,246.27 627.00,248.18 627.50,250.02 628.00,251.81 628.50,253.53 629.00,255.20 629.50,256.81 630.00,258.36 630.50,259.85 631.00,261.29 631.50,262.67 632.00,264.00 632.50,265.27 633.00,266.49 633.50,267.66 634.00,268.79 634.50,269.86 635.00,270.89 635.50,271.87 636.00,272.80 636.50,273.69 637.00,274.54 637.50,275.35 638.00,276.12 638.50,276.86 639.00,277.55 639.50,278.21 640.00,278.84 640.50,279.43 641.00,279.99 641.50,280.52 642.00,281.02 642.50,281.49 643.00,281.94 643.50,282.36 644.00,282.76 644.50,283.13 645.00,283.48 645.50,283.81 646.00,284.12 646.50,284.41 647.00,284.68 647.50,284.94 648.00,285.18 648.50,285.40 649.00,285.61 649.50,285.80 650.00,285.99 650.50,286.16 651.00,286.31 651.50,286.46 652.00,286.60 652.50,286.72 653.00,286.84 653.50,286.95 654.00,287.05 654.50,287.15 655.00,287.23" fill="none" stroke="#ff1010" stroke-width="1.1"/>
<path d="M594.50,288.20 L594.50,287.30 595.00,287.25 595.50,287.20 596.00,287.15 596.50,287.10 597.00,287.04 597.50,286.99 598.00,286.93 598.50,286.87 599.00,286.81 599.50,286.75 600.00,286.69 600.50,286.62 601.00,286.55 601.50,286.49 602.00,286.42 602.50,286.35 603.00,286.28 603.50,286.21 604.00,286.13 604.50,286.06 605.00,285.98 605.50,285.91 606.00,285.83 606.50,285.75 607.00,285.68 607.50,285.60 608.00,285.52 608.50,285.44 609.00,285.36 609.50,285.28 610.00,285.20 610.50,285.12 611.00,285.04 611.50,284.96 612.00,284.88 612.50,284.80 613.00,284.72 613.50,284.65 614.00,284.57 614.50,284.49 615.00,284.42 615.50,284.34 616.00,284.27 616.50,284.19 617.00,284.12 617.50,284.05 618.00,283.98 618.50,283.91 619.00,283.85 619.50,283.78 620.00,283.71 620.50,283.65 621.00,283.59 621.50,283.53 622.00,283.47 622.50,283.41 623.00,283.36 623.50,283.30 624.00,283.25 624.50,283.20 625.00,283.15 625.50,283.10 626.00,283.06 626.50,283.01 627.00,282.97 627.50,282.93 628.00,282.89 628.50,282.85 629.00,282.82 629.50,282.78 630.00,282.75 630.50,282.72 631.00,282.68 631.50,282.66 632.00,282.63 632.50,282.60 633.00,282.58 633.50,282.55 634.00,282.53 634.50,282.51 635.00,282.49 635.50,282.47 636.00,282.45 636.50,282.43 637.00,282.42 637.50,282.40 638.00,282.39 638.50,282.37 639.00,282.36 639.50,282.35 640.00,282.34 640.50,282.33 641.00,282.32 641.50,282.31 642.00,282.30 642.50,282.29 643.00,282.28 643.50,282.28 644.00,282.27 644.50,282.26 645.00,282.26 645.50,282.25 646.00,282.25 646.50,282.24 647.00,282.24 647.50,282.24 648.00,282.23 648.50,282.23 649.00,282.23 649.50,282.23 650.00,282.22 650.50,282.22 651.00,282.22 651.50,282.22 652.00,282.22 652.50,282.21 653.00,282.21 653.50,282.21 654.00,282.21 654.50,282.21 655.00,282.21 655.50,282.21 656.00,282.21 656.50,282.21 657.00,282.21 657.50,282.20 658.00,282.20 658.50,282.20 659.00,282.20 659.50,282.20 660.00,282.20 660.50,282.20 661.00,282.20 661.50,282.20 662.00,282.20 662.50,282.20 663.00,282.20 663.50,282.20 664.00,282.20 664.50,282.20 665.00,282.20 665.50,282.20 666.00,282.20 666.50,282.20 667.00,282.20 667.50,282.20 668.00,282.20 668.50,282.20 669.00,282.20 669.50,282.20 670.00,282.20 670.50,282.20 671.00,282.20 671.50,282.20 672.00,282.20 672.50,282.20 673.00,282.20 673.50,282.20 674.00,282.20 674.50,282.20 675.00,282.20 675.50,282.20 676.00,282.20 676.50,282.20 677.00,282.20 677.50,282.20 678.00,282.20 678.50,282.20 679.00,282.20 679.50,282.20 680.00,282.20 680.50,282.20 681.00,282.20 681.50,282.20 682.00,282.20 682.50,282.20 683.00,282.20 683.50,282.20 684.00,282.20 684.50,282.20 685.00,282.20 685.50,282.20 686.00,282.20 686.50,282.20 687.00,282.20 687.50,282.20 688.00,282.20 688.50,282.20 689.00,282.20 689.50,282.20 690.00,282.20 690.50,282.20 691.00,282.20 691.50,282.20 692.00,282.20 692.50,282.20 693.00,282.20 693.50,282.20 694.00,282.20 694.50,282.20 695.00,282.20 695.50,282.20 696.00,282.20 696.50,282.20 697.00,282.20 697.50,282.20 698.00,282.20 698.50,282.20 699.00,282.20 699.50,282.20 700.00,282.20 700.50,282.20 701.00,282.20 701.50,282.20 702.00,282.20 702.50,282.20 703.00,282.20 703.50,282.20 704.00,282.20 704.50,282.20 705.00,282.20 705.50,282.20 706.00,282.20 706.50,282.20 707.00,282.20 707.50,282.20 708.00,282.20 708.50,282.20 709.00,282.20 709.50,282.20 710.00,282.20 710.50,282.20 711.00,282.20 711.50,282.20 712.00,282.20 712.50,282.20 713.00,282.20 713.50,282.20 714.00,282.20 714.50,282.20 715.00,282.20 715.50,282.20 716.00,282.20 716.50,282.20 717.00,282.20 717.50,282.20 L717.50,288.20 Z" fill="url(#hbP)" stroke="none"/>
<polyline points="594.50,287.30 595.00,287.25 595.50,287.20 596.00,287.15 596.50,287.10 597.00,287.04 597.50,286.99 598.00,286.93 598.50,286.87 599.00,286.81 599.50,286.75 600.00,286.69 600.50,286.62 601.00,286.55 601.50,286.49 602.00,286.42 602.50,286.35 603.00,286.28 603.50,286.21 604.00,286.13 604.50,286.06 605.00,285.98 605.50,285.91 606.00,285.83 606.50,285.75 607.00,285.68 607.50,285.60 608.00,285.52 608.50,285.44 609.00,285.36 609.50,285.28 610.00,285.20 610.50,285.12 611.00,285.04 611.50,284.96 612.00,284.88 612.50,284.80 613.00,284.72 613.50,284.65 614.00,284.57 614.50,284.49 615.00,284.42 615.50,284.34 616.00,284.27 616.50,284.19 617.00,284.12 617.50,284.05 618.00,283.98 618.50,283.91 619.00,283.85 619.50,283.78 620.00,283.71 620.50,283.65 621.00,283.59 621.50,283.53 622.00,283.47 622.50,283.41 623.00,283.36 623.50,283.30 624.00,283.25 624.50,283.20 625.00,283.15 625.50,283.10 626.00,283.06 626.50,283.01 627.00,282.97 627.50,282.93 628.00,282.89 628.50,282.85 629.00,282.82 629.50,282.78 630.00,282.75 630.50,282.72 631.00,282.68 631.50,282.66 632.00,282.63 632.50,282.60 633.00,282.58 633.50,282.55 634.00,282.53 634.50,282.51 635.00,282.49 635.50,282.47 636.00,282.45 636.50,282.43 637.00,282.42 637.50,282.40 638.00,282.39 638.50,282.37 639.00,282.36 639.50,282.35 640.00,282.34 640.50,282.33 641.00,282.32 641.50,282.31 642.00,282.30 642.50,282.29 643.00,282.28 643.50,282.28 644.00,282.27 644.50,282.26 645.00,282.26 645.50,282.25 646.00,282.25 646.50,282.24 647.00,282.24 647.50,282.24 648.00,282.23 648.50,282.23 649.00,282.23 649.50,282.23 650.00,282.22 650.50,282.22 651.00,282.22 651.50,282.22 652.00,282.22 652.50,282.21 653.00,282.21 653.50,282.21 654.00,282.21 654.50,282.21 655.00,282.21 655.50,282.21 656.00,282.21 656.50,282.21 657.00,282.21 657.50,282.20 658.00,282.20 658.50,282.20 659.00,282.20 659.50,282.20 660.00,282.20 660.50,282.20 661.00,282.20 661.50,282.20 662.00,282.20 662.50,282.20 663.00,282.20 663.50,282.20 664.00,282.20 664.50,282.20 665.00,282.20 665.50,282.20 666.00,282.20 666.50,282.20 667.00,282.20 667.50,282.20 668.00,282.20 668.50,282.20 669.00,282.20 669.50,282.20 670.00,282.20 670.50,282.20 671.00,282.20 671.50,282.20 672.00,282.20 672.50,282.20 673.00,282.20 673.50,282.20 674.00,282.20 674.50,282.20 675.00,282.20 675.50,282.20 676.00,282.20 676.50,282.20 677.00,282.20 677.50,282.20 678.00,282.20 678.50,282.20 679.00,282.20 679.50,282.20 680.00,282.20 680.50,282.20 681.00,282.20 681.50,282.20 682.00,282.20 682.50,282.20 683.00,282.20 683.50,282.20 684.00,282.20 684.50,282.20 685.00,282.20 685.50,282.20 686.00,282.20 686.50,282.20 687.00,282.20 687.50,282.20 688.00,282.20 688.50,282.20 689.00,282.20 689.50,282.20 690.00,282.20 690.50,282.20 691.00,282.20 691.50,282.20 692.00,282.20 692.50,282.20 693.00,282.20 693.50,282.20 694.00,282.20 694.50,282.20 695.00,282.20 695.50,282.20 696.00,282.20 696.50,282.20 697.00,282.20 697.50,282.20 698.00,282.20 698.50,282.20 699.00,282.20 699.50,282.20 700.00,282.20 700.50,282.20 701.00,282.20 701.50,282.20 702.00,282.20 702.50,282.20 703.00,282.20 703.50,282.20 704.00,282.20 704.50,282.20 705.00,282.20 705.50,282.20 706.00,282.20 706.50,282.20 707.00,282.20 707.50,282.20 708.00,282.20 708.50,282.20 709.00,282.20 709.50,282.20 710.00,282.20 710.50,282.20 711.00,282.20 711.50,282.20 712.00,282.20 712.50,282.20 713.00,282.20 713.50,282.20 714.00,282.20 714.50,282.20 715.00,282.20 715.50,282.20 716.00,282.20 716.50,282.20 717.00,282.20 717.50,282.20" fill="none" stroke="#1010ff" stroke-width="1.6"/>
<polyline points="416.00,287.97 417.00,287.96 418.00,287.99 419.00,288.20 420.00,288.15 421.00,288.20 422.00,288.18 423.00,288.20 424.00,288.20 425.00,288.20 426.00,288.20 427.00,288.20 428.00,288.20 429.00,288.20 430.00,288.09 431.00,288.20 432.00,288.19 433.00,288.07 434.00,288.20 435.00,288.20 436.00,288.05 437.00,288.15 438.00,288.11 439.00,288.13 440.00,287.95 441.00,288.20 442.00,288.06 443.00,288.20 444.00,288.16 445.00,288.11 446.00,288.20 447.00,288.20 448.00,288.20 449.00,288.08 450.00,288.15 451.00,288.20 452.00,288.12 453.00,288.20 454.00,288.20 455.00,288.20 456.00,288.03 457.00,288.20 458.00,288.20 459.00,288.20 460.00,288.20 461.00,288.20 462.00,288.16 463.00,288.03 464.00,288.20 465.00,288.20 466.00,288.20 467.00,288.20 468.00,288.05 469.00,288.17 470.00,288.20 471.00,288.20 472.00,288.05 473.00,288.09 474.00,288.02 475.00,288.20 476.00,288.18 477.00,287.97 478.00,288.15 479.00,287.96 480.00,288.20 481.00,287.94 482.00,288.20 483.00,288.20 484.00,288.20 485.00,288.03 486.00,288.10 487.00,287.94 488.00,288.03 489.00,287.95 490.00,288.18 491.00,287.93 492.00,288.06 493.00,288.20 494.00,287.93 495.00,288.20 496.00,288.20 497.00,288.20 498.00,288.20 499.00,288.20 500.00,287.94 501.00,287.93 502.00,288.20 503.00,288.20 504.00,288.17 505.00,288.20 506.00,288.15 507.00,287.98 508.00,288.20 509.00,288.20 510.00,287.89 511.00,288.18 512.00,288.20 513.00,287.84 514.00,287.13 515.00,286.86 516.00,287.29 517.00,287.91 518.00,287.07 519.00,286.57 520.00,286.95 521.00,287.95 522.00,287.63 523.00,287.10 524.00,285.72 525.00,286.13 526.00,285.84 527.00,284.51 528.00,286.71 529.00,284.32 530.00,284.98 531.00,283.49 532.00,281.65 533.00,283.48 534.00,279.45 535.00,282.67 536.00,279.30 537.00,278.27 538.00,278.67 539.00,275.50 540.00,274.49 541.00,272.95 542.00,269.40 543.00,272.08 544.00,267.44 545.00,262.15 546.00,264.29 547.00,255.97 548.00,258.20 549.00,251.06 550.00,251.95 551.00,245.87 552.00,242.20 553.00,241.33 554.00,230.88 555.00,228.42 556.00,221.30 557.00,217.75 558.00,212.18 559.00,206.93 560.00,203.89 561.00,190.54 562.00,194.59 563.00,178.09 564.00,171.69 565.00,170.03 566.00,159.45 567.00,154.14 568.00,148.35 569.00,146.29 570.00,139.21 571.00,132.15 572.00,126.40 573.00,109.40 574.00,113.22 575.00,106.47 576.00,100.17 577.00,87.88 578.00,88.52 579.00,82.35 580.00,83.17 581.00,78.76 582.00,78.59 583.00,73.17 584.00,69.68 585.00,56.76 586.00,61.51 587.00,67.59 588.00,60.51 589.00,66.76 590.00,59.15 591.00,62.68 592.00,56.94 593.00,70.38 594.00,62.75 595.00,77.29 596.00,68.38 597.00,79.29 598.00,94.76 599.00,87.07 600.00,102.07 601.00,106.79 602.00,116.78 603.00,112.19 604.00,130.98 605.00,127.70 606.00,139.97 607.00,142.66 608.00,155.29 609.00,165.11 610.00,159.95 611.00,170.14 612.00,182.93 613.00,178.38 614.00,185.13 615.00,199.78 616.00,206.85 617.00,204.64 618.00,214.69 619.00,212.22 620.00,219.16 621.00,220.29 622.00,225.24 623.00,226.39 624.00,228.90 625.00,233.87 626.00,236.58 627.00,241.51 628.00,245.55 629.00,248.03 630.00,243.22 631.00,250.96 632.00,250.96 633.00,253.75 634.00,253.07 635.00,255.59 636.00,254.80 637.00,259.86 638.00,262.11 639.00,261.62 640.00,262.60 641.00,262.94 642.00,268.71 643.00,266.30 644.00,267.12 645.00,268.49 646.00,275.01 647.00,274.58 648.00,273.31 649.00,273.98 650.00,279.26 651.00,278.06 652.00,277.00 653.00,277.47 654.00,279.16 655.00,281.26 656.00,280.68 657.00,282.70 658.00,281.74 659.00,281.46 660.00,279.81 661.00,281.08 662.00,282.04 663.00,282.92 664.00,282.70 665.00,281.15 666.00,282.24 667.00,283.52 668.00,280.62 669.00,281.76 670.00,280.02 671.00,281.98 672.00,281.61 673.00,282.50 674.00,281.69 675.00,280.30 676.00,280.02 677.00,281.47 678.00,282.51 679.00,284.16 680.00,280.67 681.00,282.69 682.00,282.73 683.00,284.19 684.00,284.29 685.00,282.69 686.00,280.07 687.00,281.12 688.00,281.26 689.00,281.44 690.00,283.22 691.00,283.69 692.00,281.74 693.00,284.16 694.00,281.80 695.00,282.13 696.00,282.01 697.00,283.90 698.00,284.14 699.00,282.32 700.00,283.79 701.00,281.56 702.00,283.06 703.00,281.66 704.00,281.08 705.00,281.72 706.00,282.06 707.00,283.56 708.00,282.89 709.00,280.05 710.00,283.24 711.00,283.17 712.00,282.23 713.00,281.99 714.00,280.89 715.00,283.12 716.00,280.12" fill="none" stroke="#111" stroke-width="1" stroke-linejoin="miter"/>
<rect x="415.00" y="52.10" width="302.80" height="236.10" fill="none" stroke="#000" stroke-width="2"/>
<line x1="412.00" y1="288.20" x2="415.00" y2="288.20" stroke="#000" stroke-width="1.6" />
<line x1="412.00" y1="273.41" x2="415.00" y2="273.41" stroke="#000" stroke-width="1.6" />
<line x1="412.00" y1="258.61" x2="415.00" y2="258.61" stroke="#000" stroke-width="1.6" />
<line x1="412.00" y1="243.82" x2="415.00" y2="243.82" stroke="#000" stroke-width="1.6" />
<line x1="412.00" y1="229.03" x2="415.00" y2="229.03" stroke="#000" stroke-width="1.6" />
<line x1="412.00" y1="214.23" x2="415.00" y2="214.23" stroke="#000" stroke-width="1.6" />
<line x1="412.00" y1="199.44" x2="415.00" y2="199.44" stroke="#000" stroke-width="1.6" />
<line x1="412.00" y1="184.65" x2="415.00" y2="184.65" stroke="#000" stroke-width="1.6" />
<line x1="412.00" y1="169.85" x2="415.00" y2="169.85" stroke="#000" stroke-width="1.6" />
<line x1="412.00" y1="155.06" x2="415.00" y2="155.06" stroke="#000" stroke-width="1.6" />
<line x1="412.00" y1="140.27" x2="415.00" y2="140.27" stroke="#000" stroke-width="1.6" />
<line x1="412.00" y1="125.47" x2="415.00" y2="125.47" stroke="#000" stroke-width="1.6" />
<line x1="412.00" y1="110.68" x2="415.00" y2="110.68" stroke="#000" stroke-width="1.6" />
<line x1="412.00" y1="95.89" x2="415.00" y2="95.89" stroke="#000" stroke-width="1.6" />
<line x1="412.00" y1="81.09" x2="415.00" y2="81.09" stroke="#000" stroke-width="1.6" />
<line x1="412.00" y1="66.30" x2="415.00" y2="66.30" stroke="#000" stroke-width="1.6" />
<line x1="409.50" y1="288.20" x2="415.00" y2="288.20" stroke="#000" stroke-width="1.8" />
<text x="403.41" y="292.15" font-size="11.30" font-weight="normal" fill="#111" textLength="5.36" lengthAdjust="spacingAndGlyphs" >0</text>
<line x1="409.50" y1="229.03" x2="415.00" y2="229.03" stroke="#000" stroke-width="1.8" />
<text x="391.63" y="232.98" font-size="11.30" font-weight="normal" fill="#111" textLength="17.17" lengthAdjust="spacingAndGlyphs" >100</text>
<line x1="409.50" y1="170.45" x2="415.00" y2="170.45" stroke="#000" stroke-width="1.8" />
<text x="391.62" y="174.40" font-size="11.30" font-weight="normal" fill="#111" textLength="17.25" lengthAdjust="spacingAndGlyphs" >199</text>
<line x1="409.50" y1="111.27" x2="415.00" y2="111.27" stroke="#000" stroke-width="1.8" />
<text x="391.89" y="115.22" font-size="11.30" font-weight="normal" fill="#111" textLength="16.98" lengthAdjust="spacingAndGlyphs" >299</text>
<line x1="409.50" y1="52.10" x2="415.00" y2="52.10" stroke="#000" stroke-width="1.8" />
<text x="392.02" y="56.05" font-size="11.30" font-weight="normal" fill="#111" textLength="16.84" lengthAdjust="spacingAndGlyphs" >399</text>
<line x1="415.00" y1="288.20" x2="415.00" y2="294.20" stroke="#000" stroke-width="1.8" />
<text x="412.20" y="307.90" font-size="11.30" font-weight="normal" fill="#111" textLength="5.59" lengthAdjust="spacingAndGlyphs" >0</text>
<line x1="433.93" y1="288.20" x2="433.93" y2="292.00" stroke="#000" stroke-width="1.6" />
<line x1="452.85" y1="288.20" x2="452.85" y2="292.00" stroke="#000" stroke-width="1.6" />
<line x1="471.77" y1="288.20" x2="471.77" y2="292.00" stroke="#000" stroke-width="1.6" />
<line x1="490.70" y1="288.20" x2="490.70" y2="294.20" stroke="#000" stroke-width="1.8" />
<text x="480.12" y="307.90" font-size="11.30" font-weight="normal" fill="#111" textLength="20.71" lengthAdjust="spacingAndGlyphs" >100</text>
<line x1="509.62" y1="288.20" x2="509.62" y2="292.00" stroke="#000" stroke-width="1.6" />
<line x1="528.55" y1="288.20" x2="528.55" y2="292.00" stroke="#000" stroke-width="1.6" />
<line x1="547.48" y1="288.20" x2="547.48" y2="292.00" stroke="#000" stroke-width="1.6" />
<line x1="566.40" y1="288.20" x2="566.40" y2="294.20" stroke="#000" stroke-width="1.8" />
<text x="556.14" y="307.90" font-size="11.30" font-weight="normal" fill="#111" textLength="20.38" lengthAdjust="spacingAndGlyphs" >200</text>
<line x1="585.33" y1="288.20" x2="585.33" y2="292.00" stroke="#000" stroke-width="1.6" />
<line x1="604.25" y1="288.20" x2="604.25" y2="292.00" stroke="#000" stroke-width="1.6" />
<line x1="623.17" y1="288.20" x2="623.17" y2="292.00" stroke="#000" stroke-width="1.6" />
<line x1="642.10" y1="288.20" x2="642.10" y2="294.20" stroke="#000" stroke-width="1.8" />
<text x="632.00" y="307.90" font-size="11.30" font-weight="normal" fill="#111" textLength="20.22" lengthAdjust="spacingAndGlyphs" >300</text>
<line x1="661.02" y1="288.20" x2="661.02" y2="292.00" stroke="#000" stroke-width="1.6" />
<line x1="679.95" y1="288.20" x2="679.95" y2="292.00" stroke="#000" stroke-width="1.6" />
<line x1="698.88" y1="288.20" x2="698.88" y2="292.00" stroke="#000" stroke-width="1.6" />
<line x1="717.80" y1="288.20" x2="717.80" y2="294.20" stroke="#000" stroke-width="1.8" />
<text x="707.88" y="307.90" font-size="11.30" font-weight="normal" fill="#111" textLength="20.03" lengthAdjust="spacingAndGlyphs" >400</text>
<path d="M160.30,616.80 L160.30,615.84 160.80,615.75 161.30,615.64 161.80,615.52 162.30,615.39 162.80,615.25 163.30,615.10 163.80,614.93 164.30,614.75 164.80,614.56 165.30,614.35 165.80,614.12 166.30,613.87 166.80,613.60 167.30,613.31 167.80,613.00 168.30,612.67 168.80,612.31 169.30,611.92 169.80,611.50 170.30,611.06 170.80,610.58 171.30,610.07 171.80,609.52 172.30,608.93 172.80,608.31 173.30,607.65 173.80,606.94 174.30,606.18 174.80,605.38 175.30,604.53 175.80,603.63 176.30,602.68 176.80,601.67 177.30,600.60 177.80,599.48 178.30,598.29 178.80,597.04 179.30,595.72 179.80,594.33 180.30,592.88 180.80,591.35 181.30,589.75 181.80,588.08 182.30,586.33 182.80,584.50 183.30,582.59 183.80,580.60 184.30,578.54 184.80,576.38 185.30,574.15 185.80,571.83 186.30,569.43 186.80,566.94 187.30,564.37 187.80,561.71 188.30,558.97 188.80,556.15 189.30,553.24 189.80,550.25 190.30,547.19 190.80,544.04 191.30,540.82 191.80,537.53 192.30,534.16 192.80,530.73 193.30,527.23 193.80,523.67 194.30,520.05 194.80,516.37 195.30,512.65 195.80,508.88 196.30,505.07 196.80,501.22 197.30,497.34 197.80,493.43 198.30,489.50 198.80,485.56 199.30,481.61 199.80,477.66 200.30,473.72 200.80,469.78 201.30,465.86 201.80,461.96 202.30,458.10 202.80,454.27 203.30,450.49 203.80,446.75 204.30,443.08 204.80,439.47 205.30,435.93 205.80,432.47 206.30,429.09 206.80,425.81 207.30,422.62 207.80,419.53 208.30,416.56 208.80,413.70 209.30,410.96 209.80,408.34 210.30,405.86 210.80,403.51 211.30,401.30 211.80,399.23 212.30,397.30 212.80,395.53 213.30,393.90 213.80,392.43 214.30,391.11 214.80,389.95 215.30,388.95 215.80,388.10 216.30,387.40 216.80,386.86 217.30,386.46 217.80,386.22 218.30,386.11 218.80,386.12 219.30,386.26 219.80,386.53 220.30,386.95 220.80,387.53 221.30,388.25 221.80,389.13 222.30,390.17 222.80,391.36 223.30,392.71 223.80,394.21 224.30,395.87 224.80,397.68 225.30,399.63 225.80,401.73 226.30,403.97 226.80,406.34 227.30,408.86 227.80,411.50 228.30,414.26 228.80,417.15 229.30,420.14 229.80,423.25 230.30,426.46 230.80,429.76 231.30,433.15 231.80,436.63 232.30,440.18 232.80,443.81 233.30,447.49 233.80,451.24 234.30,455.03 234.80,458.87 235.30,462.74 235.80,466.64 236.30,470.57 236.80,474.50 237.30,478.45 237.80,482.41 238.30,486.35 238.80,490.29 239.30,494.21 239.80,498.12 240.30,501.99 240.80,505.83 241.30,509.64 241.80,513.40 242.30,517.11 242.80,520.78 243.30,524.39 243.80,527.93 244.30,531.42 244.80,534.84 245.30,538.19 245.80,541.47 246.30,544.68 246.80,547.81 247.30,550.86 247.80,553.83 248.30,556.72 248.80,559.52 249.30,562.25 249.80,564.89 250.30,567.44 250.80,569.91 251.30,572.30 251.80,574.60 252.30,576.82 252.80,578.96 253.30,581.01 253.80,582.98 254.30,584.87 254.80,586.68 255.30,588.42 255.80,590.08 256.30,591.66 256.80,593.18 257.30,594.62 257.80,595.99 258.30,597.29 258.80,598.53 259.30,599.71 259.80,600.82 260.30,601.88 260.80,602.87 261.30,603.82 261.80,604.71 262.30,605.55 262.80,606.34 263.30,607.08 263.80,607.78 264.30,608.44 264.80,609.05 265.30,609.63 265.80,610.17 266.30,610.68 266.80,611.15 267.30,611.59 267.80,612.00 268.30,612.38 268.80,612.74 269.30,613.07 269.80,613.37 270.30,613.66 270.80,613.92 271.30,614.16 271.80,614.39 272.30,614.60 272.80,614.79 273.30,614.97 273.80,615.13 274.30,615.28 274.80,615.42 275.30,615.54 275.80,615.66 276.30,615.77 276.80,615.86 L276.80,616.80 Z" fill="url(#hrQ)" stroke="none"/>
<polyline points="160.30,615.84 160.80,615.75 161.30,615.64 161.80,615.52 162.30,615.39 162.80,615.25 163.30,615.10 163.80,614.93 164.30,614.75 164.80,614.56 165.30,614.35 165.80,614.12 166.30,613.87 166.80,613.60 167.30,613.31 167.80,613.00 168.30,612.67 168.80,612.31 169.30,611.92 169.80,611.50 170.30,611.06 170.80,610.58 171.30,610.07 171.80,609.52 172.30,608.93 172.80,608.31 173.30,607.65 173.80,606.94 174.30,606.18 174.80,605.38 175.30,604.53 175.80,603.63 176.30,602.68 176.80,601.67 177.30,600.60 177.80,599.48 178.30,598.29 178.80,597.04 179.30,595.72 179.80,594.33 180.30,592.88 180.80,591.35 181.30,589.75 181.80,588.08 182.30,586.33 182.80,584.50 183.30,582.59 183.80,580.60 184.30,578.54 184.80,576.38 185.30,574.15 185.80,571.83 186.30,569.43 186.80,566.94 187.30,564.37 187.80,561.71 188.30,558.97 188.80,556.15 189.30,553.24 189.80,550.25 190.30,547.19 190.80,544.04 191.30,540.82 191.80,537.53 192.30,534.16 192.80,530.73 193.30,527.23 193.80,523.67 194.30,520.05 194.80,516.37 195.30,512.65 195.80,508.88 196.30,505.07 196.80,501.22 197.30,497.34 197.80,493.43 198.30,489.50 198.80,485.56 199.30,481.61 199.80,477.66 200.30,473.72 200.80,469.78 201.30,465.86 201.80,461.96 202.30,458.10 202.80,454.27 203.30,450.49 203.80,446.75 204.30,443.08 204.80,439.47 205.30,435.93 205.80,432.47 206.30,429.09 206.80,425.81 207.30,422.62 207.80,419.53 208.30,416.56 208.80,413.70 209.30,410.96 209.80,408.34 210.30,405.86 210.80,403.51 211.30,401.30 211.80,399.23 212.30,397.30 212.80,395.53 213.30,393.90 213.80,392.43 214.30,391.11 214.80,389.95 215.30,388.95 215.80,388.10 216.30,387.40 216.80,386.86 217.30,386.46 217.80,386.22 218.30,386.11 218.80,386.12 219.30,386.26 219.80,386.53 220.30,386.95 220.80,387.53 221.30,388.25 221.80,389.13 222.30,390.17 222.80,391.36 223.30,392.71 223.80,394.21 224.30,395.87 224.80,397.68 225.30,399.63 225.80,401.73 226.30,403.97 226.80,406.34 227.30,408.86 227.80,411.50 228.30,414.26 228.80,417.15 229.30,420.14 229.80,423.25 230.30,426.46 230.80,429.76 231.30,433.15 231.80,436.63 232.30,440.18 232.80,443.81 233.30,447.49 233.80,451.24 234.30,455.03 234.80,458.87 235.30,462.74 235.80,466.64 236.30,470.57 236.80,474.50 237.30,478.45 237.80,482.41 238.30,486.35 238.80,490.29 239.30,494.21 239.80,498.12 240.30,501.99 240.80,505.83 241.30,509.64 241.80,513.40 242.30,517.11 242.80,520.78 243.30,524.39 243.80,527.93 244.30,531.42 244.80,534.84 245.30,538.19 245.80,541.47 246.30,544.68 246.80,547.81 247.30,550.86 247.80,553.83 248.30,556.72 248.80,559.52 249.30,562.25 249.80,564.89 250.30,567.44 250.80,569.91 251.30,572.30 251.80,574.60 252.30,576.82 252.80,578.96 253.30,581.01 253.80,582.98 254.30,584.87 254.80,586.68 255.30,588.42 255.80,590.08 256.30,591.66 256.80,593.18 257.30,594.62 257.80,595.99 258.30,597.29 258.80,598.53 259.30,599.71 259.80,600.82 260.30,601.88 260.80,602.87 261.30,603.82 261.80,604.71 262.30,605.55 262.80,606.34 263.30,607.08 263.80,607.78 264.30,608.44 264.80,609.05 265.30,609.63 265.80,610.17 266.30,610.68 266.80,611.15 267.30,611.59 267.80,612.00 268.30,612.38 268.80,612.74 269.30,613.07 269.80,613.37 270.30,613.66 270.80,613.92 271.30,614.16 271.80,614.39 272.30,614.60 272.80,614.79 273.30,614.97 273.80,615.13 274.30,615.28 274.80,615.42 275.30,615.54 275.80,615.66 276.30,615.77 276.80,615.86" fill="none" stroke="#ff1010" stroke-width="1.1"/>
<path d="M213.30,616.80 L213.30,615.50 213.80,615.50 214.30,615.50 214.80,615.50 215.30,615.50 215.80,615.50 216.30,615.50 216.80,615.50 217.30,615.50 217.80,615.50 218.30,615.50 218.80,615.50 219.30,615.50 219.80,615.50 220.30,615.50 220.80,615.50 221.30,615.50 221.80,615.50 222.30,615.50 222.80,615.50 223.30,615.50 223.80,615.50 224.30,615.50 224.80,615.50 225.30,615.50 225.80,615.50 226.30,615.50 226.80,615.50 227.30,615.50 227.80,615.50 228.30,615.50 228.80,615.50 229.30,615.50 229.80,615.50 230.30,615.50 230.80,615.50 231.30,615.50 231.80,615.50 232.30,615.50 232.80,615.50 233.30,615.50 233.80,615.50 234.30,615.50 234.80,615.50 235.30,615.50 235.80,615.50 236.30,615.50 236.80,615.50 237.30,615.50 237.80,615.50 238.30,615.50 238.80,615.50 239.30,615.50 239.80,615.50 240.30,615.50 240.80,615.50 241.30,615.50 241.80,615.50 242.30,615.50 242.80,615.50 243.30,615.50 243.80,615.50 244.30,615.50 244.80,615.50 245.30,615.50 245.80,615.50 246.30,615.50 246.80,615.50 247.30,615.50 247.80,615.50 248.30,615.50 248.80,615.50 249.30,615.50 249.80,615.50 250.30,615.50 250.80,615.50 251.30,615.50 251.80,615.50 252.30,615.50 252.80,615.50 253.30,615.50 253.80,615.50 254.30,615.50 254.80,615.50 255.30,615.50 255.80,615.50 256.30,615.50 256.80,615.50 257.30,615.50 257.80,615.50 258.30,615.50 258.80,615.50 259.30,615.50 259.80,615.50 260.30,615.50 260.80,615.50 261.30,615.50 261.80,615.50 262.30,615.50 262.80,615.50 263.30,615.50 263.80,615.50 264.30,615.50 264.80,615.50 265.30,615.50 265.80,615.50 266.30,615.50 266.80,615.50 267.30,615.50 267.80,615.50 268.30,615.50 268.80,615.50 269.30,615.50 269.80,615.50 270.30,615.50 270.80,615.50 271.30,615.50 271.80,615.50 272.30,615.50 272.80,615.50 273.30,615.50 273.80,615.50 274.30,615.50 274.80,615.50 275.30,615.50 275.80,615.50 276.30,615.50 276.80,615.50 277.30,615.50 277.80,615.50 278.30,615.50 278.80,615.50 279.30,615.50 279.80,615.50 280.30,615.50 280.80,615.50 281.30,615.50 281.80,615.50 282.30,615.50 282.80,615.50 283.30,615.50 283.80,615.50 284.30,615.50 284.80,615.50 285.30,615.50 285.80,615.50 286.30,615.50 286.80,615.50 287.30,615.50 287.80,615.50 288.30,615.50 288.80,615.50 289.30,615.50 289.80,615.50 290.30,615.50 290.80,615.50 291.30,615.50 291.80,615.50 292.30,615.50 292.80,615.50 293.30,615.50 293.80,615.50 294.30,615.50 294.80,615.50 295.30,615.50 295.80,615.50 296.30,615.50 296.80,615.50 297.30,615.50 297.80,615.50 298.30,615.50 298.80,615.50 299.30,615.50 299.80,615.50 300.30,615.50 300.80,615.50 301.30,615.50 301.80,615.50 302.30,615.50 302.80,615.50 303.30,615.50 303.80,615.50 304.30,615.50 304.80,615.50 305.30,615.50 305.80,615.50 306.30,615.50 306.80,615.50 307.30,615.50 307.80,615.50 308.30,615.50 308.80,615.50 309.30,615.50 309.80,615.50 310.30,615.50 310.80,615.50 311.30,615.50 311.80,615.50 312.30,615.50 312.80,615.50 313.30,615.50 313.80,615.50 314.30,615.50 314.80,615.50 315.30,615.50 L315.30,616.80 Z" fill="url(#hbQ)" stroke="none"/>
<polyline points="213.30,615.50 213.80,615.50 214.30,615.50 214.80,615.50 215.30,615.50 215.80,615.50 216.30,615.50 216.80,615.50 217.30,615.50 217.80,615.50 218.30,615.50 218.80,615.50 219.30,615.50 219.80,615.50 220.30,615.50 220.80,615.50 221.30,615.50 221.80,615.50 222.30,615.50 222.80,615.50 223.30,615.50 223.80,615.50 224.30,615.50 224.80,615.50 225.30,615.50 225.80,615.50 226.30,615.50 226.80,615.50 227.30,615.50 227.80,615.50 228.30,615.50 228.80,615.50 229.30,615.50 229.80,615.50 230.30,615.50 230.80,615.50 231.30,615.50 231.80,615.50 232.30,615.50 232.80,615.50 233.30,615.50 233.80,615.50 234.30,615.50 234.80,615.50 235.30,615.50 235.80,615.50 236.30,615.50 236.80,615.50 237.30,615.50 237.80,615.50 238.30,615.50 238.80,615.50 239.30,615.50 239.80,615.50 240.30,615.50 240.80,615.50 241.30,615.50 241.80,615.50 242.30,615.50 242.80,615.50 243.30,615.50 243.80,615.50 244.30,615.50 244.80,615.50 245.30,615.50 245.80,615.50 246.30,615.50 246.80,615.50 247.30,615.50 247.80,615.50 248.30,615.50 248.80,615.50 249.30,615.50 249.80,615.50 250.30,615.50 250.80,615.50 251.30,615.50 251.80,615.50 252.30,615.50 252.80,615.50 253.30,615.50 253.80,615.50 254.30,615.50 254.80,615.50 255.30,615.50 255.80,615.50 256.30,615.50 256.80,615.50 257.30,615.50 257.80,615.50 258.30,615.50 258.80,615.50 259.30,615.50 259.80,615.50 260.30,615.50 260.80,615.50 261.30,615.50 261.80,615.50 262.30,615.50 262.80,615.50 263.30,615.50 263.80,615.50 264.30,615.50 264.80,615.50 265.30,615.50 265.80,615.50 266.30,615.50 266.80,615.50 267.30,615.50 267.80,615.50 268.30,615.50 268.80,615.50 269.30,615.50 269.80,615.50 270.30,615.50 270.80,615.50 271.30,615.50 271.80,615.50 272.30,615.50 272.80,615.50 273.30,615.50 273.80,615.50 274.30,615.50 274.80,615.50 275.30,615.50 275.80,615.50 276.30,615.50 276.80,615.50 277.30,615.50 277.80,615.50 278.30,615.50 278.80,615.50 279.30,615.50 279.80,615.50 280.30,615.50 280.80,615.50 281.30,615.50 281.80,615.50 282.30,615.50 282.80,615.50 283.30,615.50 283.80,615.50 284.30,615.50 284.80,615.50 285.30,615.50 285.80,615.50 286.30,615.50 286.80,615.50 287.30,615.50 287.80,615.50 288.30,615.50 288.80,615.50 289.30,615.50 289.80,615.50 290.30,615.50 290.80,615.50 291.30,615.50 291.80,615.50 292.30,615.50 292.80,615.50 293.30,615.50 293.80,615.50 294.30,615.50 294.80,615.50 295.30,615.50 295.80,615.50 296.30,615.50 296.80,615.50 297.30,615.50 297.80,615.50 298.30,615.50 298.80,615.50 299.30,615.50 299.80,615.50 300.30,615.50 300.80,615.50 301.30,615.50 301.80,615.50 302.30,615.50 302.80,615.50 303.30,615.50 303.80,615.50 304.30,615.50 304.80,615.50 305.30,615.50 305.80,615.50 306.30,615.50 306.80,615.50 307.30,615.50 307.80,615.50 308.30,615.50 308.80,615.50 309.30,615.50 309.80,615.50 310.30,615.50 310.80,615.50 311.30,615.50 311.80,615.50 312.30,615.50 312.80,615.50 313.30,615.50 313.80,615.50 314.30,615.50 314.80,615.50 315.30,615.50" fill="none" stroke="#1010ff" stroke-width="1.6"/>
<polyline points="55.80,616.74 56.80,616.68 57.80,616.66 58.80,616.59 59.80,616.68 60.80,616.60 61.80,616.80 62.80,616.80 63.80,616.59 64.80,616.73 65.80,616.61 66.80,616.80 67.80,616.80 68.80,616.80 69.80,616.78 70.80,616.76 71.80,616.80 72.80,616.80 73.80,616.80 74.80,616.60 75.80,616.67 76.80,616.80 77.80,616.66 78.80,616.80 79.80,616.74 80.80,616.80 81.80,616.80 82.80,616.62 83.80,616.80 84.80,616.80 85.80,616.57 86.80,616.62 87.80,616.80 88.80,616.58 89.80,616.78 90.80,616.71 91.80,616.80 92.80,616.59 93.80,616.71 94.80,616.58 95.80,616.61 96.80,616.80 97.80,616.80 98.80,616.80 99.80,616.80 100.80,616.80 101.80,616.80 102.80,616.75 103.80,616.80 104.80,616.71 105.80,616.80 106.80,616.80 107.80,616.65 108.80,616.80 109.80,616.80 110.80,616.80 111.80,616.70 112.80,616.80 113.80,616.57 114.80,616.80 115.80,616.68 116.80,616.63 117.80,616.80 118.80,616.66 119.80,616.80 120.80,616.76 121.80,616.80 122.80,616.80 123.80,616.80 124.80,616.58 125.80,616.80 126.80,616.68 127.80,616.59 128.80,616.59 129.80,616.80 130.80,616.80 131.80,616.79 132.80,616.67 133.80,616.80 134.80,616.68 135.80,616.66 136.80,616.62 137.80,616.80 138.80,616.58 139.80,616.80 140.80,616.80 141.80,616.74 142.80,616.59 143.80,616.80 144.80,616.58 145.80,616.77 146.80,616.80 147.80,616.80 148.80,616.80 149.80,616.80 150.80,616.80 151.80,616.68 152.80,616.50 153.80,616.80 154.80,616.80 155.80,616.47 156.80,616.72 157.80,616.79 158.80,616.80 159.80,616.19 160.80,615.54 161.80,616.27 162.80,616.19 163.80,616.80 164.80,614.42 165.80,616.59 166.80,614.92 167.80,613.41 168.80,615.17 169.80,612.54 170.80,610.97 171.80,611.25 172.80,609.57 173.80,611.25 174.80,608.49 175.80,608.29 176.80,603.04 177.80,603.80 178.80,600.59 179.80,594.66 180.80,592.39 181.80,588.05 182.80,587.77 183.80,583.34 184.80,576.86 185.80,573.76 186.80,569.87 187.80,562.97 188.80,559.01 189.80,550.01 190.80,536.46 191.80,528.82 192.80,524.20 193.80,517.15 194.80,510.30 195.80,504.44 196.80,493.03 197.80,477.02 198.80,466.36 199.80,463.99 200.80,448.71 201.80,439.79 202.80,432.24 203.80,424.39 204.80,415.08 205.80,414.15 206.80,402.18 207.80,403.33 208.80,395.07 209.80,386.33 210.80,384.54 211.80,389.09 212.80,379.60 213.80,381.87 214.80,383.67 215.80,394.60 216.80,387.70 217.80,395.39 218.80,391.83 219.80,399.30 220.80,398.16 221.80,406.05 222.80,409.29 223.80,422.37 224.80,424.12 225.80,429.37 226.80,434.95 227.80,449.05 228.80,449.06 229.80,455.94 230.80,465.71 231.80,468.97 232.80,476.34 233.80,488.93 234.80,495.41 235.80,506.27 236.80,504.23 237.80,508.98 238.80,519.92 239.80,522.75 240.80,527.41 241.80,531.97 242.80,542.16 243.80,539.89 244.80,545.68 245.80,548.34 246.80,553.95 247.80,555.04 248.80,556.48 249.80,560.41 250.80,562.17 251.80,570.58 252.80,571.61 253.80,571.35 254.80,571.70 255.80,577.22 256.80,575.45 257.80,577.83 258.80,584.24 259.80,582.85 260.80,586.49 261.80,589.51 262.80,590.70 263.80,591.19 264.80,593.82 265.80,595.42 266.80,598.04 267.80,597.00 268.80,599.09 269.80,599.28 270.80,600.90 271.80,604.20 272.80,602.06 273.80,607.88 274.80,607.03 275.80,608.70 276.80,609.10 277.80,611.28 278.80,609.14 279.80,611.78 280.80,613.75 281.80,612.22 282.80,614.62 283.80,613.56 284.80,614.68 285.80,614.30 286.80,613.54 287.80,614.29 288.80,615.68 289.80,614.85 290.80,615.51 291.80,616.36 292.80,616.80 293.80,616.07 294.80,616.24 295.80,615.47 296.80,616.42 297.80,616.67 298.80,616.80 299.80,616.53 300.80,616.80 301.80,616.80 302.80,616.74 303.80,616.72 304.80,616.80 305.80,616.72 306.80,616.59 307.80,616.80 308.80,616.80 309.80,616.80 310.80,616.80 311.80,616.56 312.80,616.80 313.80,616.57 314.80,616.59 315.80,616.75 316.80,616.80 317.80,616.56 318.80,616.80 319.80,616.80 320.80,616.80 321.80,616.57 322.80,616.80 323.80,616.80 324.80,616.80 325.80,616.80 326.80,616.74 327.80,616.80 328.80,616.80 329.80,616.66 330.80,616.64 331.80,616.80 332.80,616.78 333.80,616.80 334.80,616.59 335.80,616.66 336.80,616.80 337.80,616.80 338.80,616.80 339.80,616.57 340.80,616.80 341.80,616.75 342.80,616.80 343.80,616.73 344.80,616.75 345.80,616.68 346.80,616.80 347.80,616.68 348.80,616.80 349.80,616.78 350.80,616.80 351.80,616.80 352.80,616.79 353.80,616.80 354.80,616.80 355.80,616.68 356.80,616.76" fill="none" stroke="#111" stroke-width="1" stroke-linejoin="miter"/>
<rect x="54.80" y="379.60" width="303.40" height="237.20" fill="none" stroke="#000" stroke-width="2"/>
<line x1="51.80" y1="616.80" x2="54.80" y2="616.80" stroke="#000" stroke-width="1.6" />
<line x1="51.80" y1="602.01" x2="54.80" y2="602.01" stroke="#000" stroke-width="1.6" />
<line x1="51.80" y1="587.22" x2="54.80" y2="587.22" stroke="#000" stroke-width="1.6" />
<line x1="51.80" y1="572.44" x2="54.80" y2="572.44" stroke="#000" stroke-width="1.6" />
<line x1="51.80" y1="557.65" x2="54.80" y2="557.65" stroke="#000" stroke-width="1.6" />
<line x1="51.80" y1="542.86" x2="54.80" y2="542.86" stroke="#000" stroke-width="1.6" />
<line x1="51.80" y1="528.07" x2="54.80" y2="528.07" stroke="#000" stroke-width="1.6" />
<line x1="51.80" y1="513.28" x2="54.80" y2="513.28" stroke="#000" stroke-width="1.6" />
<line x1="51.80" y1="498.50" x2="54.80" y2="498.50" stroke="#000" stroke-width="1.6" />
<line x1="51.80" y1="483.71" x2="54.80" y2="483.71" stroke="#000" stroke-width="1.6" />
<line x1="51.80" y1="468.92" x2="54.80" y2="468.92" stroke="#000" stroke-width="1.6" />
<line x1="51.80" y1="454.13" x2="54.80" y2="454.13" stroke="#000" stroke-width="1.6" />
<line x1="51.80" y1="439.34" x2="54.80" y2="439.34" stroke="#000" stroke-width="1.6" />
<line x1="51.80" y1="424.56" x2="54.80" y2="424.56" stroke="#000" stroke-width="1.6" />
<line x1="51.80" y1="409.77" x2="54.80" y2="409.77" stroke="#000" stroke-width="1.6" />
<line x1="51.80" y1="394.98" x2="54.80" y2="394.98" stroke="#000" stroke-width="1.6" />
<line x1="51.80" y1="380.19" x2="54.80" y2="380.19" stroke="#000" stroke-width="1.6" />
<line x1="49.30" y1="616.80" x2="54.80" y2="616.80" stroke="#000" stroke-width="1.8" />
<text x="43.21" y="620.75" font-size="11.30" font-weight="normal" fill="#111" textLength="5.36" lengthAdjust="spacingAndGlyphs" >0</text>
<line x1="49.30" y1="557.65" x2="54.80" y2="557.65" stroke="#000" stroke-width="1.8" />
<text x="31.64" y="561.60" font-size="11.30" font-weight="normal" fill="#111" textLength="16.95" lengthAdjust="spacingAndGlyphs" >100</text>
<line x1="49.30" y1="498.50" x2="54.80" y2="498.50" stroke="#000" stroke-width="1.8" />
<text x="31.90" y="502.45" font-size="11.30" font-weight="normal" fill="#111" textLength="16.69" lengthAdjust="spacingAndGlyphs" >200</text>
<line x1="49.30" y1="439.34" x2="54.80" y2="439.34" stroke="#000" stroke-width="1.8" />
<text x="32.03" y="443.29" font-size="11.30" font-weight="normal" fill="#111" textLength="16.55" lengthAdjust="spacingAndGlyphs" >300</text>
<line x1="49.30" y1="379.60" x2="54.80" y2="379.60" stroke="#000" stroke-width="1.8" />
<text x="32.18" y="383.55" font-size="11.30" font-weight="normal" fill="#111" textLength="16.50" lengthAdjust="spacingAndGlyphs" >401</text>
<line x1="54.80" y1="616.80" x2="54.80" y2="622.80" stroke="#000" stroke-width="1.8" />
<text x="52.00" y="635.50" font-size="11.30" font-weight="normal" fill="#111" textLength="5.59" lengthAdjust="spacingAndGlyphs" >0</text>
<line x1="73.76" y1="616.80" x2="73.76" y2="620.60" stroke="#000" stroke-width="1.6" />
<line x1="92.72" y1="616.80" x2="92.72" y2="620.60" stroke="#000" stroke-width="1.6" />
<line x1="111.69" y1="616.80" x2="111.69" y2="620.60" stroke="#000" stroke-width="1.6" />
<line x1="130.65" y1="616.80" x2="130.65" y2="622.80" stroke="#000" stroke-width="1.8" />
<text x="121.88" y="635.50" font-size="11.30" font-weight="normal" fill="#111" textLength="17.17" lengthAdjust="spacingAndGlyphs" >100</text>
<line x1="149.61" y1="616.80" x2="149.61" y2="620.60" stroke="#000" stroke-width="1.6" />
<line x1="168.57" y1="616.80" x2="168.57" y2="620.60" stroke="#000" stroke-width="1.6" />
<line x1="187.54" y1="616.80" x2="187.54" y2="620.60" stroke="#000" stroke-width="1.6" />
<line x1="206.50" y1="616.80" x2="206.50" y2="622.80" stroke="#000" stroke-width="1.8" />
<text x="197.99" y="635.50" font-size="11.30" font-weight="normal" fill="#111" textLength="16.90" lengthAdjust="spacingAndGlyphs" >200</text>
<line x1="225.46" y1="616.80" x2="225.46" y2="620.60" stroke="#000" stroke-width="1.6" />
<line x1="244.43" y1="616.80" x2="244.43" y2="620.60" stroke="#000" stroke-width="1.6" />
<line x1="263.39" y1="616.80" x2="263.39" y2="620.60" stroke="#000" stroke-width="1.6" />
<line x1="282.35" y1="616.80" x2="282.35" y2="622.80" stroke="#000" stroke-width="1.8" />
<text x="273.97" y="635.50" font-size="11.30" font-weight="normal" fill="#111" textLength="16.76" lengthAdjust="spacingAndGlyphs" >300</text>
<line x1="301.31" y1="616.80" x2="301.31" y2="620.60" stroke="#000" stroke-width="1.6" />
<line x1="320.27" y1="616.80" x2="320.27" y2="620.60" stroke="#000" stroke-width="1.6" />
<line x1="339.24" y1="616.80" x2="339.24" y2="620.60" stroke="#000" stroke-width="1.6" />
<line x1="358.20" y1="616.80" x2="358.20" y2="622.80" stroke="#000" stroke-width="1.8" />
<text x="349.98" y="635.50" font-size="11.30" font-weight="normal" fill="#111" textLength="16.61" lengthAdjust="spacingAndGlyphs" >400</text>
<line x1="357.00" y1="217.30" x2="357.00" y2="289.50" stroke="#111" stroke-width="1.3" />
<line x1="716.60" y1="274.40" x2="716.60" y2="288.20" stroke="#111" stroke-width="1.3" />
<line x1="22.30" y1="51.00" x2="22.30" y2="316.70" stroke="#000" stroke-width="2.2" />
<line x1="22.30" y1="316.70" x2="724.00" y2="316.70" stroke="#000" stroke-width="2.2" />
<path d="M22.3,44.6 L26.3,52.6 L18.3,52.6 Z" fill="#000"/>
<path d="M731.2,316.7 L723.2,312.9 L723.2,320.5 Z" fill="#000"/>
<line x1="22.30" y1="386.00" x2="22.30" y2="643.40" stroke="#000" stroke-width="2.2" />
<line x1="22.30" y1="643.40" x2="359.00" y2="643.40" stroke="#000" stroke-width="2.2" />
<path d="M22.3,379.4 L26.3,387.6 L18.3,387.6 Z" fill="#000"/>
<path d="M366.2,643.4 L358.2,639.6 L358.2,647.2 Z" fill="#000"/>
<text x="9.49" y="29.90" font-size="28.65" font-weight="bold" fill="#000" textLength="20.48" lengthAdjust="spacingAndGlyphs" >A</text>
<text x="173.59" y="42.90" font-size="14.77" font-weight="bold" fill="#000" textLength="49.52" lengthAdjust="spacingAndGlyphs" >DMSO</text>
<text x="521.50" y="42.90" font-size="14.90" font-weight="bold" fill="#000" textLength="126.39" lengthAdjust="spacingAndGlyphs" >Paclitaxel 50 nM</text>
<text x="141.99" y="371.40" font-size="16.00" font-weight="bold" fill="#000" textLength="136.59" lengthAdjust="spacingAndGlyphs" >Paclitaxel 100 nM</text>
<text x="16.30" y="194.86" font-size="17.35" font-weight="bold" fill="#000" textLength="47.37" lengthAdjust="spacingAndGlyphs" transform="rotate(-90 16.30 194.86)" >Count</text>
<text x="16.10" y="520.96" font-size="17.20" font-weight="bold" fill="#000" textLength="47.57" lengthAdjust="spacingAndGlyphs" transform="rotate(-90 16.10 520.96)" >Count</text>
<text x="338.09" y="333.00" font-size="15.72" font-weight="bold" fill="#000" textLength="133.77" lengthAdjust="spacingAndGlyphs" >Propidium iodide</text>
<text x="151.49" y="662.00" font-size="15.31" font-weight="bold" fill="#000" textLength="134.68" lengthAdjust="spacingAndGlyphs" >Propidium iodide</text>
<text x="242.69" y="83.30" font-size="15.20" font-weight="bold" fill="#ee1c24" textLength="13.71" lengthAdjust="spacingAndGlyphs" stroke="#ee1c24" stroke-width="0.45" paint-order="stroke">G</text>
<text x="255.68" y="87.70" font-size="11.20" font-weight="bold" fill="#ee1c24" textLength="4.66" lengthAdjust="spacingAndGlyphs" stroke="#ee1c24" stroke-width="0.45" paint-order="stroke">1</text>
<text x="283.92" y="83.30" font-size="15.20" font-weight="bold" fill="#ee1c24" textLength="54.31" lengthAdjust="spacingAndGlyphs" stroke="#ee1c24" stroke-width="0.45" paint-order="stroke">77.51%</text>
<text x="242.91" y="102.90" font-size="15.20" font-weight="bold" fill="#0a6cc4" textLength="10.83" lengthAdjust="spacingAndGlyphs" stroke="#0a6cc4" stroke-width="0.45" paint-order="stroke">S</text>
<text x="286.29" y="102.90" font-size="15.20" font-weight="bold" fill="#0a6cc4" textLength="54.84" lengthAdjust="spacingAndGlyphs" stroke="#0a6cc4" stroke-width="0.45" paint-order="stroke">10.67%</text>
<text x="242.99" y="122.50" font-size="15.20" font-weight="bold" fill="#10a64a" textLength="13.71" lengthAdjust="spacingAndGlyphs" stroke="#10a64a" stroke-width="0.45" paint-order="stroke">G</text>
<text x="255.63" y="126.80" font-size="10.20" font-weight="bold" fill="#10a64a" textLength="5.88" lengthAdjust="spacingAndGlyphs" stroke="#10a64a" stroke-width="0.45" paint-order="stroke">2</text>
<text x="260.79" y="122.50" font-size="15.20" font-weight="bold" fill="#10a64a" textLength="5.72" lengthAdjust="spacingAndGlyphs" stroke="#10a64a" stroke-width="0.45" paint-order="stroke">/</text>
<text x="265.72" y="122.50" font-size="15.20" font-weight="bold" fill="#10a64a" textLength="14.52" lengthAdjust="spacingAndGlyphs" stroke="#10a64a" stroke-width="0.45" paint-order="stroke">M</text>
<text x="284.99" y="122.50" font-size="15.20" font-weight="bold" fill="#10a64a" textLength="53.73" lengthAdjust="spacingAndGlyphs" stroke="#10a64a" stroke-width="0.45" paint-order="stroke">11.82%</text>
<text x="611.59" y="83.50" font-size="15.20" font-weight="bold" fill="#ee1c24" textLength="13.71" lengthAdjust="spacingAndGlyphs" stroke="#ee1c24" stroke-width="0.45" paint-order="stroke">G</text>
<text x="624.58" y="87.90" font-size="11.20" font-weight="bold" fill="#ee1c24" textLength="4.66" lengthAdjust="spacingAndGlyphs" stroke="#ee1c24" stroke-width="0.45" paint-order="stroke">1</text>
<text x="652.33" y="83.50" font-size="15.20" font-weight="bold" fill="#ee1c24" textLength="54.80" lengthAdjust="spacingAndGlyphs" stroke="#ee1c24" stroke-width="0.45" paint-order="stroke">90.52%</text>
<text x="611.81" y="102.90" font-size="15.20" font-weight="bold" fill="#0a6cc4" textLength="10.83" lengthAdjust="spacingAndGlyphs" stroke="#0a6cc4" stroke-width="0.45" paint-order="stroke">S</text>
<text x="659.43" y="102.90" font-size="15.20" font-weight="bold" fill="#0a6cc4" textLength="46.49" lengthAdjust="spacingAndGlyphs" stroke="#0a6cc4" stroke-width="0.45" paint-order="stroke">9.48%</text>
<text x="611.89" y="122.60" font-size="15.20" font-weight="bold" fill="#10a64a" textLength="13.71" lengthAdjust="spacingAndGlyphs" stroke="#10a64a" stroke-width="0.45" paint-order="stroke">G</text>
<text x="624.53" y="126.90" font-size="10.20" font-weight="bold" fill="#10a64a" textLength="5.88" lengthAdjust="spacingAndGlyphs" stroke="#10a64a" stroke-width="0.45" paint-order="stroke">2</text>
<text x="629.69" y="122.60" font-size="15.20" font-weight="bold" fill="#10a64a" textLength="5.72" lengthAdjust="spacingAndGlyphs" stroke="#10a64a" stroke-width="0.45" paint-order="stroke">/</text>
<text x="634.62" y="122.60" font-size="15.20" font-weight="bold" fill="#10a64a" textLength="14.52" lengthAdjust="spacingAndGlyphs" stroke="#10a64a" stroke-width="0.45" paint-order="stroke">M</text>
<text x="658.46" y="122.60" font-size="15.20" font-weight="bold" fill="#10a64a" textLength="23.08" lengthAdjust="spacingAndGlyphs" stroke="#10a64a" stroke-width="0.45" paint-order="stroke">0%</text>
<text x="242.69" y="411.70" font-size="15.20" font-weight="bold" fill="#ee1c24" textLength="13.71" lengthAdjust="spacingAndGlyphs" stroke="#ee1c24" stroke-width="0.45" paint-order="stroke">G</text>
<text x="255.68" y="416.10" font-size="11.20" font-weight="bold" fill="#ee1c24" textLength="4.66" lengthAdjust="spacingAndGlyphs" stroke="#ee1c24" stroke-width="0.45" paint-order="stroke">1</text>
<text x="283.13" y="411.70" font-size="15.20" font-weight="bold" fill="#ee1c24" textLength="55.10" lengthAdjust="spacingAndGlyphs" stroke="#ee1c24" stroke-width="0.45" paint-order="stroke">96.37%</text>
<text x="242.91" y="430.90" font-size="15.20" font-weight="bold" fill="#0a6cc4" textLength="10.83" lengthAdjust="spacingAndGlyphs" stroke="#0a6cc4" stroke-width="0.45" paint-order="stroke">S</text>
<text x="291.24" y="430.90" font-size="15.20" font-weight="bold" fill="#0a6cc4" textLength="45.37" lengthAdjust="spacingAndGlyphs" stroke="#0a6cc4" stroke-width="0.45" paint-order="stroke">3.63%</text>
<text x="242.99" y="451.10" font-size="15.20" font-weight="bold" fill="#10a64a" textLength="13.71" lengthAdjust="spacingAndGlyphs" stroke="#10a64a" stroke-width="0.45" paint-order="stroke">G</text>
<text x="255.63" y="455.40" font-size="10.20" font-weight="bold" fill="#10a64a" textLength="5.88" lengthAdjust="spacingAndGlyphs" stroke="#10a64a" stroke-width="0.45" paint-order="stroke">2</text>
<text x="260.79" y="451.10" font-size="15.20" font-weight="bold" fill="#10a64a" textLength="5.72" lengthAdjust="spacingAndGlyphs" stroke="#10a64a" stroke-width="0.45" paint-order="stroke">/</text>
<text x="265.72" y="451.10" font-size="15.20" font-weight="bold" fill="#10a64a" textLength="14.52" lengthAdjust="spacingAndGlyphs" stroke="#10a64a" stroke-width="0.45" paint-order="stroke">M</text>
<text x="289.28" y="451.10" font-size="15.20" font-weight="bold" fill="#10a64a" textLength="22.56" lengthAdjust="spacingAndGlyphs" stroke="#10a64a" stroke-width="0.45" paint-order="stroke">0%</text>
<text x="385.09" y="373.40" font-size="23.80" font-weight="bold" fill="#000" textLength="20.07" lengthAdjust="spacingAndGlyphs" >C</text>
<text x="364.18" y="421.10" font-size="14.69" font-weight="bold" fill="#000" textLength="33.31" lengthAdjust="spacingAndGlyphs" >KDa</text>
<line x1="364.80" y1="423.90" x2="398.00" y2="423.90" stroke="#000" stroke-width="1.6" />
<text x="417.69" y="420.00" font-size="16.77" font-weight="bold" fill="#000" textLength="49.31" lengthAdjust="spacingAndGlyphs" >DMSO</text>
<text x="540.79" y="396.40" font-size="15.45" font-weight="bold" fill="#000" textLength="75.54" lengthAdjust="spacingAndGlyphs" >Paclitaxel</text>
<line x1="506.30" y1="400.40" x2="659.00" y2="400.40" stroke="#000" stroke-width="1.6" />
<text x="507.81" y="417.70" font-size="16.06" font-weight="bold" fill="#000" textLength="46.38" lengthAdjust="spacingAndGlyphs" >50 nM</text>
<text x="591.76" y="419.80" font-size="16.06" font-weight="bold" fill="#000" textLength="56.22" lengthAdjust="spacingAndGlyphs" >100 nM</text>
<rect x="396.5" y="428.4" width="264.3" height="59.8" fill="#f3f3f3" stroke="none"/>
<rect x="396.5" y="496.0" width="264.3" height="44.2" fill="#f3f3f3" stroke="none"/>
<rect x="396.5" y="546.2" width="264.3" height="40.8" fill="#f3f3f3" stroke="none"/>
<rect x="396.5" y="592.2" width="264.3" height="34.1" fill="#f3f3f3" stroke="none"/>
<g clip-path="url(#cb0)">
<ellipse cx="447.0" cy="450.0" rx="44.0" ry="12.0" fill="#777" opacity="0.55" filter="url(#b3)"/>
<ellipse cx="528.0" cy="458.0" rx="40.0" ry="9.0" fill="#aaa" opacity="0.35" filter="url(#b3)"/>
<ellipse cx="613.0" cy="457.0" rx="40.0" ry="9.0" fill="#aaa" opacity="0.35" filter="url(#b3)"/>
<ellipse cx="455.0" cy="444.0" rx="28.0" ry="6.0" fill="#8a8a8a" opacity="0.6" filter="url(#b3)"/>
<path d="M410.0,451.0 L418.6,448.2 L438.0,445.0 L453.5,444.4 L472.9,445.6 L480.7,447.8 Q484.6,447.8 484.6,455.6 Q484.6,463.4 480.7,463.4 L472.9,464.8 L453.5,465.2 L438.0,464.6 L418.6,462.5 L410.0,459.5 Q406.9,459.5 406.9,455.2 Q406.9,451.0 410.0,451.0 Z" fill="#000" opacity="1.0" filter="url(#b1)"/>
<path d="M500.5,453.9 L528.6,453.7 L556.7,454.8 Q562.0,454.8 562.0,459.0 Q562.0,463.2 556.7,463.2 L528.6,464.2 L500.5,464.4 Q495.2,464.4 495.2,459.1 Q495.2,453.9 500.5,453.9 Z" fill="#000" opacity="1.0" filter="url(#b15)"/>
<path d="M585.3,453.4 L599.7,453.0 L619.5,452.3 L639.2,451.8 Q645.8,451.8 645.8,456.2 Q645.8,460.6 639.2,460.6 L619.5,462.2 L599.7,463.0 L585.3,463.0 Q580.0,463.0 580.0,458.2 Q580.0,453.4 585.3,453.4 Z" fill="#000" opacity="1.0" filter="url(#b15)"/>
</g>
<g clip-path="url(#cb1)">
<ellipse cx="443.0" cy="516.0" rx="44.0" ry="20.0" fill="#888" opacity="0.45" filter="url(#b3)"/>
<rect x="411" y="522" width="66" height="17" fill="#9a9a9a" filter="url(#b2)"/>
<rect x="497" y="503" width="64" height="24" rx="6" fill="#b0b0b0" filter="url(#b3)"/>
<rect x="497" y="512" width="30" height="14" rx="6" fill="#a0a0a0" filter="url(#b3)"/>
<rect x="500" y="522" width="58" height="14" fill="#d4d4d4" filter="url(#b3)"/>
<rect x="581" y="503" width="66" height="26" rx="6" fill="#d6d6d6" filter="url(#b3)"/>
<rect x="641" y="531" width="8" height="8" rx="2" fill="#a8a8a8" filter="url(#b1)"/>
<path d="M412.7,505.4 L428.6,506.4 L443.1,506.8 L457.6,506.4 L473.6,505.4 Q479.4,505.4 479.4,515.8 Q479.4,526.2 473.6,526.2 L457.6,525.4 L443.1,525.0 L428.6,525.4 L412.7,526.2 Q406.9,526.2 406.9,515.8 Q406.9,505.4 412.7,505.4 Z" fill="#000" opacity="1.0" filter="url(#b1)"/>
</g>
<g clip-path="url(#cb2)">
<ellipse cx="443.0" cy="568.0" rx="40.0" ry="12.0" fill="#999" opacity="0.45" filter="url(#b3)"/>
<path d="M412,571 L477,571 L477,582 Q470,585 450,584 L425,584 Q416,583 412,571 Z" fill="#2a2a2a" opacity="0.9" filter="url(#b2)"/>
<rect x="497" y="555" width="64" height="20" rx="6" fill="#e6e6e6" filter="url(#b3)"/>
<rect x="581" y="556" width="66" height="18" rx="6" fill="#ececec" filter="url(#b3)"/>
<rect x="585" y="578" width="64" height="5" rx="2" fill="#dedede" filter="url(#b2)"/>
<path d="M413.4,563.6 L429.1,562.8 L449.5,562.4 L466.6,561.0 L472.7,561.6 Q476.8,561.6 476.8,568.6 Q476.8,575.6 472.7,575.6 L466.6,576.2 L449.5,575.6 L429.1,574.4 L413.4,572.6 Q408.6,572.6 408.6,568.1 Q408.6,563.6 413.4,563.6 Z" fill="#000" opacity="1.0" filter="url(#b1)"/>
<circle cx="583.5" cy="584" r="0.8" fill="#333"/>
</g>
<g clip-path="url(#cb3)">
<path d="M408,605 Q420,594 440,594 Q462,594 474,606" stroke="#9a9a9a" stroke-width="5" fill="none" opacity="0.7" filter="url(#b2)"/>
<path d="M466,616 L478,616 L480,626 L470,626 Z" fill="#888" opacity="0.6" filter="url(#b2)"/>
<ellipse cx="568.5" cy="621.0" rx="5.0" ry="3.5" fill="#888" opacity="0.7" filter="url(#b2)"/>
<path d="M406.2,604.4 L424.6,604.0 L447.7,604.6 L473.8,605.4 Q478.4,605.4 478.4,610.6 Q478.4,615.8 473.8,615.8 L447.7,616.4 L424.6,616.4 L406.2,615.6 Q401.6,615.6 401.6,610.0 Q401.6,604.4 406.2,604.4 Z" fill="#000" opacity="1.0" filter="url(#b1)"/>
<path d="M491.4,607.0 L525.1,606.4 L558.8,606.0 Q563.4,606.0 563.4,611.4 Q563.4,616.8 558.8,616.8 L525.1,617.8 L491.4,617.4 Q486.8,617.4 486.8,612.2 Q486.8,607.0 491.4,607.0 Z" fill="#000" opacity="1.0" filter="url(#b1)"/>
<path d="M580.3,606.2 L615.8,604.8 L643.9,603.0 L652.8,602.6 Q656.0,602.6 656.0,606.3 Q656.0,610.0 652.8,610.0 L643.9,613.2 L615.8,614.8 L580.3,614.8 Q575.5,614.8 575.5,610.5 Q575.5,606.2 580.3,606.2 Z" fill="#000" opacity="1.0" filter="url(#b1)"/>
</g>
<rect x="396.5" y="428.4" width="264.3" height="59.8" fill="none" stroke="#2a2a2a" stroke-width="1.5"/>
<rect x="396.5" y="496.0" width="264.3" height="44.2" fill="none" stroke="#2a2a2a" stroke-width="1.5"/>
<rect x="396.5" y="546.2" width="264.3" height="40.8" fill="none" stroke="#2a2a2a" stroke-width="1.5"/>
<rect x="396.5" y="592.2" width="264.3" height="34.1" fill="none" stroke="#2a2a2a" stroke-width="1.5"/>
<text x="375.84" y="468.60" font-size="16.34" font-weight="bold" fill="#000" textLength="17.76" lengthAdjust="spacingAndGlyphs" >33</text>
<text x="375.44" y="523.90" font-size="15.63" font-weight="bold" fill="#000" textLength="19.01" lengthAdjust="spacingAndGlyphs" >48</text>
<text x="376.09" y="571.40" font-size="14.77" font-weight="bold" fill="#000" textLength="18.51" lengthAdjust="spacingAndGlyphs" >70</text>
<text x="375.75" y="614.80" font-size="15.71" font-weight="bold" fill="#000" textLength="18.76" lengthAdjust="spacingAndGlyphs" >45</text>
<text x="662.84" y="467.70" font-size="15.86" font-weight="bold" fill="#000" textLength="40.08" lengthAdjust="spacingAndGlyphs" >Cdk2</text>
<text x="662.85" y="526.00" font-size="16.55" font-weight="bold" fill="#000" textLength="72.72" lengthAdjust="spacingAndGlyphs" >Cyclin E1</text>
<text x="662.85" y="575.00" font-size="16.49" font-weight="bold" fill="#000" textLength="65.48" lengthAdjust="spacingAndGlyphs" >CDC25A</text>
<text x="662.34" y="613.00" font-size="15.59" font-weight="bold" fill="#000" textLength="54.25" lengthAdjust="spacingAndGlyphs" >β-actin</text>
<text x="9.49" y="699.30" font-size="26.04" font-weight="bold" fill="#000" textLength="20.48" lengthAdjust="spacingAndGlyphs" >B</text>
<line x1="218.10" y1="925.80" x2="218.10" y2="692.52" stroke="#000" stroke-width="2.2" />
<line x1="211.30" y1="925.80" x2="567.60" y2="925.80" stroke="#000" stroke-width="2.2" />
<line x1="211.60" y1="925.80" x2="218.10" y2="925.80" stroke="#000" stroke-width="2.0" />
<text x="199.72" y="931.30" font-size="15.80" font-weight="bold" fill="#000" textLength="9.48" lengthAdjust="spacingAndGlyphs" >0</text>
<line x1="211.60" y1="887.09" x2="218.10" y2="887.09" stroke="#000" stroke-width="2.0" />
<text x="189.07" y="892.59" font-size="15.80" font-weight="bold" fill="#000" textLength="19.96" lengthAdjust="spacingAndGlyphs" >25</text>
<line x1="211.60" y1="848.38" x2="218.10" y2="848.38" stroke="#000" stroke-width="2.0" />
<text x="189.16" y="853.88" font-size="15.80" font-weight="bold" fill="#000" textLength="20.11" lengthAdjust="spacingAndGlyphs" >50</text>
<line x1="211.60" y1="809.66" x2="218.10" y2="809.66" stroke="#000" stroke-width="2.0" />
<text x="188.93" y="815.16" font-size="15.80" font-weight="bold" fill="#000" textLength="20.11" lengthAdjust="spacingAndGlyphs" >75</text>
<line x1="211.60" y1="770.95" x2="218.10" y2="770.95" stroke="#000" stroke-width="2.0" />
<text x="179.90" y="776.45" font-size="15.80" font-weight="bold" fill="#000" textLength="29.32" lengthAdjust="spacingAndGlyphs" >100</text>
<line x1="211.60" y1="732.24" x2="218.10" y2="732.24" stroke="#000" stroke-width="2.0" />
<text x="179.91" y="737.74" font-size="15.80" font-weight="bold" fill="#000" textLength="29.09" lengthAdjust="spacingAndGlyphs" >125</text>
<line x1="211.60" y1="693.52" x2="218.10" y2="693.52" stroke="#000" stroke-width="2.0" />
<text x="179.90" y="699.02" font-size="15.80" font-weight="bold" fill="#000" textLength="29.32" lengthAdjust="spacingAndGlyphs" >150</text>
<line x1="275.70" y1="925.80" x2="275.70" y2="932.20" stroke="#000" stroke-width="2.0" />
<line x1="392.20" y1="925.80" x2="392.20" y2="932.20" stroke="#000" stroke-width="2.0" />
<line x1="508.30" y1="925.80" x2="508.30" y2="932.20" stroke="#000" stroke-width="2.0" />
<text x="168.90" y="875.08" font-size="18.48" font-weight="bold" fill="#000" textLength="130.44" lengthAdjust="spacingAndGlyphs" transform="rotate(-90 168.90 875.08)" >% of cell cycle</text>
<text x="236.60" y="950.40" font-size="16.20" font-weight="bold" fill="#000" textLength="78.50" lengthAdjust="spacingAndGlyphs" >G1 phase</text>
<text x="358.88" y="950.60" font-size="16.20" font-weight="bold" fill="#000" textLength="67.09" lengthAdjust="spacingAndGlyphs" >S phase</text>
<text x="459.21" y="950.60" font-size="16.20" font-weight="bold" fill="#000" textLength="97.26" lengthAdjust="spacingAndGlyphs" >G2/M phase</text>
<rect x="234.3" y="806.8" width="20.5" height="119.0" fill="url(#pdiag)" stroke="#000" stroke-width="2.2"/>
<line x1="244.55" y1="806.80" x2="244.55" y2="804.80" stroke="#000" stroke-width="2.0" />
<line x1="239.55" y1="804.80" x2="249.55" y2="804.80" stroke="#000" stroke-width="2.0" />
<rect x="265.3" y="785.4" width="21.3" height="140.4" fill="url(#pcheck)" stroke="#000" stroke-width="2.2"/>
<line x1="275.95" y1="785.40" x2="275.95" y2="784.60" stroke="#000" stroke-width="2.0" />
<line x1="270.95" y1="784.60" x2="280.95" y2="784.60" stroke="#000" stroke-width="2.0" />
<rect x="297.4" y="779.6" width="21.2" height="146.2" fill="url(#pdots)" stroke="#000" stroke-width="2.2"/>
<line x1="308.00" y1="779.60" x2="308.00" y2="777.00" stroke="#000" stroke-width="2.0" />
<line x1="303.00" y1="777.00" x2="313.00" y2="777.00" stroke="#000" stroke-width="2.0" />
<rect x="350.1" y="908.2" width="21.0" height="17.6" fill="url(#pdiag)" stroke="#000" stroke-width="2.2"/>
<line x1="360.60" y1="908.20" x2="360.60" y2="906.40" stroke="#000" stroke-width="2.0" />
<line x1="355.60" y1="906.40" x2="365.60" y2="906.40" stroke="#000" stroke-width="2.0" />
<rect x="381.8" y="910.8" width="21.4" height="15.0" fill="url(#pcheck)" stroke="#000" stroke-width="2.2"/>
<line x1="392.50" y1="910.80" x2="392.50" y2="910.00" stroke="#000" stroke-width="2.0" />
<line x1="387.50" y1="910.00" x2="397.50" y2="910.00" stroke="#000" stroke-width="2.0" />
<rect x="413.1" y="916.2" width="21.4" height="9.6" fill="url(#pdots)" stroke="#000" stroke-width="2.2"/>
<line x1="423.80" y1="916.20" x2="423.80" y2="913.90" stroke="#000" stroke-width="2.0" />
<line x1="418.80" y1="913.90" x2="428.80" y2="913.90" stroke="#000" stroke-width="2.0" />
<rect x="466.2" y="906.4" width="21.5" height="19.4" fill="url(#pdiag)" stroke="#000" stroke-width="2.2"/>
<line x1="476.95" y1="906.40" x2="476.95" y2="904.80" stroke="#000" stroke-width="2.0" />
<line x1="471.95" y1="904.80" x2="481.95" y2="904.80" stroke="#000" stroke-width="2.0" />
<line x1="238.60" y1="751.20" x2="304.70" y2="751.20" stroke="#000" stroke-width="2.2" />
<path d="M252.60,741.60 l0.00,-3.95 M252.60,741.60 l-3.90,-1.00 M252.60,741.60 l3.90,-1.00 M252.60,741.60 l-2.30,3.60 M252.60,741.60 l2.30,3.60" stroke="#000" stroke-width="2.30" stroke-linecap="round" fill="none"/>
<path d="M265.55,741.60 l0.00,-3.95 M265.55,741.60 l-3.90,-1.00 M265.55,741.60 l3.90,-1.00 M265.55,741.60 l-2.30,3.60 M265.55,741.60 l2.30,3.60" stroke="#000" stroke-width="2.30" stroke-linecap="round" fill="none"/>
<path d="M278.50,741.60 l0.00,-3.95 M278.50,741.60 l-3.90,-1.00 M278.50,741.60 l3.90,-1.00 M278.50,741.60 l-2.30,3.60 M278.50,741.60 l2.30,3.60" stroke="#000" stroke-width="2.30" stroke-linecap="round" fill="none"/>
<line x1="236.60" y1="778.50" x2="279.00" y2="778.50" stroke="#000" stroke-width="2.2" />
<path d="M245.40,770.20 l0.00,-3.95 M245.40,770.20 l-3.90,-1.00 M245.40,770.20 l3.90,-1.00 M245.40,770.20 l-2.30,3.60 M245.40,770.20 l2.30,3.60" stroke="#000" stroke-width="2.30" stroke-linecap="round" fill="none"/>
<path d="M258.30,770.20 l0.00,-3.95 M258.30,770.20 l-3.90,-1.00 M258.30,770.20 l3.90,-1.00 M258.30,770.20 l-2.30,3.60 M258.30,770.20 l2.30,3.60" stroke="#000" stroke-width="2.30" stroke-linecap="round" fill="none"/>
<path d="M271.20,770.20 l0.00,-3.95 M271.20,770.20 l-3.90,-1.00 M271.20,770.20 l3.90,-1.00 M271.20,770.20 l-2.30,3.60 M271.20,770.20 l2.30,3.60" stroke="#000" stroke-width="2.30" stroke-linecap="round" fill="none"/>
<line x1="361.90" y1="891.70" x2="425.70" y2="891.70" stroke="#000" stroke-width="2.2" />
<path d="M378.50,882.50 l0.00,-3.95 M378.50,882.50 l-3.90,-1.00 M378.50,882.50 l3.90,-1.00 M378.50,882.50 l-2.30,3.60 M378.50,882.50 l2.30,3.60" stroke="#000" stroke-width="2.30" stroke-linecap="round" fill="none"/>
<path d="M391.65,882.50 l0.00,-3.95 M391.65,882.50 l-3.90,-1.00 M391.65,882.50 l3.90,-1.00 M391.65,882.50 l-2.30,3.60 M391.65,882.50 l2.30,3.60" stroke="#000" stroke-width="2.30" stroke-linecap="round" fill="none"/>
<path d="M404.80,882.50 l0.00,-3.95 M404.80,882.50 l-3.90,-1.00 M404.80,882.50 l3.90,-1.00 M404.80,882.50 l-2.30,3.60 M404.80,882.50 l2.30,3.60" stroke="#000" stroke-width="2.30" stroke-linecap="round" fill="none"/>
<line x1="473.30" y1="879.00" x2="535.80" y2="879.00" stroke="#000" stroke-width="2.2" />
<path d="M496.70,869.90 l0.00,-3.95 M496.70,869.90 l-3.90,-1.00 M496.70,869.90 l3.90,-1.00 M496.70,869.90 l-2.30,3.60 M496.70,869.90 l2.30,3.60" stroke="#000" stroke-width="2.30" stroke-linecap="round" fill="none"/>
<path d="M509.65,869.90 l0.00,-3.95 M509.65,869.90 l-3.90,-1.00 M509.65,869.90 l3.90,-1.00 M509.65,869.90 l-2.30,3.60 M509.65,869.90 l2.30,3.60" stroke="#000" stroke-width="2.30" stroke-linecap="round" fill="none"/>
<path d="M522.60,869.90 l0.00,-3.95 M522.60,869.90 l-3.90,-1.00 M522.60,869.90 l3.90,-1.00 M522.60,869.90 l-2.30,3.60 M522.60,869.90 l2.30,3.60" stroke="#000" stroke-width="2.30" stroke-linecap="round" fill="none"/>
<line x1="472.30" y1="898.50" x2="519.90" y2="898.50" stroke="#000" stroke-width="2.2" />
<path d="M483.30,889.60 l0.00,-3.95 M483.30,889.60 l-3.90,-1.00 M483.30,889.60 l3.90,-1.00 M483.30,889.60 l-2.30,3.60 M483.30,889.60 l2.30,3.60" stroke="#000" stroke-width="2.30" stroke-linecap="round" fill="none"/>
<path d="M495.90,889.60 l0.00,-3.95 M495.90,889.60 l-3.90,-1.00 M495.90,889.60 l3.90,-1.00 M495.90,889.60 l-2.30,3.60 M495.90,889.60 l2.30,3.60" stroke="#000" stroke-width="2.30" stroke-linecap="round" fill="none"/>
<path d="M508.50,889.60 l0.00,-3.95 M508.50,889.60 l-3.90,-1.00 M508.50,889.60 l3.90,-1.00 M508.50,889.60 l-2.30,3.60 M508.50,889.60 l2.30,3.60" stroke="#000" stroke-width="2.30" stroke-linecap="round" fill="none"/>
<rect x="375.6" y="715.5" width="25.0" height="11.4" fill="url(#pdiag)" stroke="#000" stroke-width="2"/>
<text x="414.11" y="727.40" font-size="18.21" font-weight="bold" fill="#000" textLength="57.41" lengthAdjust="spacingAndGlyphs" >DMSO</text>
<rect x="375.6" y="742.0" width="25.0" height="11.0" fill="url(#pcheck)" stroke="#000" stroke-width="2"/>
<text x="414.13" y="753.50" font-size="17.60" font-weight="bold" fill="#000" textLength="145.72" lengthAdjust="spacingAndGlyphs" >Paclitaxel 50 nM</text>
<rect x="375.6" y="768.6" width="25.0" height="11.0" fill="url(#pdots)" stroke="#000" stroke-width="2"/>
<text x="414.13" y="780.10" font-size="17.60" font-weight="bold" fill="#000" textLength="155.49" lengthAdjust="spacingAndGlyphs" >Paclitaxel 100 nM</text>
</svg></body></html>
